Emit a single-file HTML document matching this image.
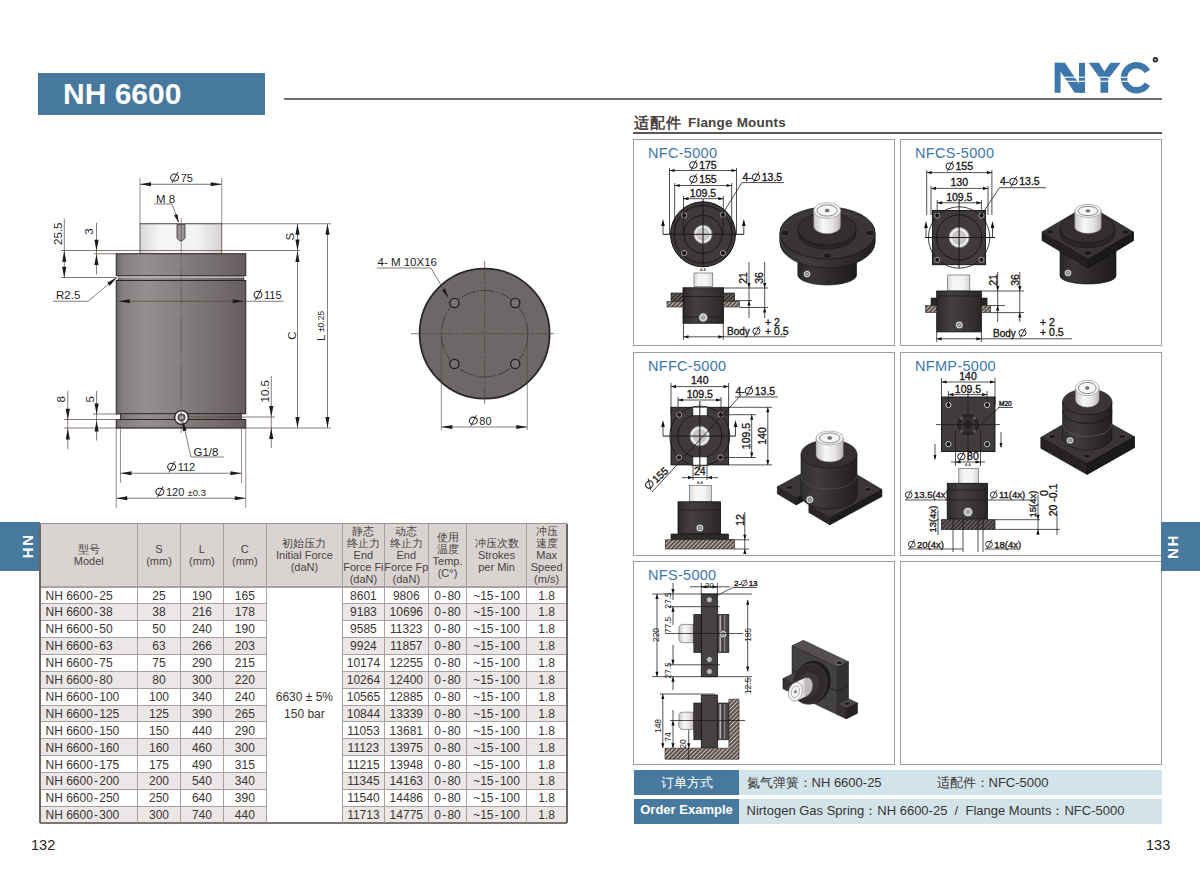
<!DOCTYPE html><html><head><meta charset="utf-8"><style>
*{margin:0;padding:0;box-sizing:border-box}
html,body{width:1200px;height:885px;overflow:hidden;background:#fff}
body{position:relative;font-family:"Liberation Sans",sans-serif;color:#3a3432}
.a{position:absolute}
.t{position:absolute;white-space:nowrap;line-height:1}
.c{position:absolute;display:flex;align-items:center;justify-content:center;text-align:center;white-space:nowrap}
.hd{font-size:11px;line-height:12px;color:#4a4341}
.dc{position:absolute;font-size:12px;line-height:16.9px;padding-top:0.8px;white-space:nowrap;text-align:center;color:#3a3432}
.box{position:absolute;border:1.3px solid #a39d9b;background:#fff}
.bt{position:absolute;font-size:14.5px;color:#3d77ad;white-space:nowrap;line-height:1;letter-spacing:0.3px}
svg{position:absolute;left:0;top:0}
.hy{margin:0 1.2px}
</style></head><body>
<div class="a" style="left:38px;top:73px;width:226.6px;height:41.5px;background:#47799f"></div>
<div class="t" style="left:63px;top:79px;font-size:30px;font-weight:bold;color:#fff;letter-spacing:0px">NH 6600</div>
<div class="a" style="left:284px;top:98.1px;width:878px;height:2.4px;background:#766c6a"></div>
<div class="t" style="left:634px;top:115px;font-size:15px;font-weight:bold;color:#4a4341;letter-spacing:1px">适配件</div>
<div class="t" style="left:688px;top:116px;font-size:13.5px;font-weight:bold;color:#4a4341;letter-spacing:0.2px">Flange Mounts</div>
<div class="a" style="left:633px;top:132px;width:529px;height:1.6px;background:#5e5654"></div>
<div class="a" style="left:0;top:522px;width:39.5px;height:49px;background:#47799f"></div>
<div class="t" style="top:535px;font-size:15px;font-weight:bold;color:#fff;letter-spacing:1.6px;transform-origin:0 0;transform:rotate(90deg);left:35.5px">NH</div>
<div class="t" style="left:31px;top:838px;font-size:14.5px;color:#222">132</div>
<div class="t" style="left:1146px;top:838px;font-size:14.5px;color:#222">133</div>
<div class="a" style="left:40px;top:523.75px;width:527px;height:63.0px;background:#d9d4d1"></div>
<div class="a" style="left:40px;top:603.65px;width:226.3px;height:16.9px;background:#ebe7e6"></div>
<div class="a" style="left:342.5px;top:603.65px;width:224.5px;height:16.9px;background:#ebe7e6"></div>
<div class="a" style="left:40px;top:637.45px;width:226.3px;height:16.9px;background:#ebe7e6"></div>
<div class="a" style="left:342.5px;top:637.45px;width:224.5px;height:16.9px;background:#ebe7e6"></div>
<div class="a" style="left:40px;top:671.25px;width:226.3px;height:16.9px;background:#ebe7e6"></div>
<div class="a" style="left:342.5px;top:671.25px;width:224.5px;height:16.9px;background:#ebe7e6"></div>
<div class="a" style="left:40px;top:705.05px;width:226.3px;height:16.9px;background:#ebe7e6"></div>
<div class="a" style="left:342.5px;top:705.05px;width:224.5px;height:16.9px;background:#ebe7e6"></div>
<div class="a" style="left:40px;top:738.85px;width:226.3px;height:16.9px;background:#ebe7e6"></div>
<div class="a" style="left:342.5px;top:738.85px;width:224.5px;height:16.9px;background:#ebe7e6"></div>
<div class="a" style="left:40px;top:772.65px;width:226.3px;height:16.9px;background:#ebe7e6"></div>
<div class="a" style="left:342.5px;top:772.65px;width:224.5px;height:16.9px;background:#ebe7e6"></div>
<div class="a" style="left:40px;top:806.45px;width:226.3px;height:16.9px;background:#ebe7e6"></div>
<div class="a" style="left:342.5px;top:806.45px;width:224.5px;height:16.9px;background:#ebe7e6"></div>
<div class="a" style="left:40px;top:603.15px;width:226.3px;height:1px;background:#a8a09e"></div>
<div class="a" style="left:342.5px;top:603.15px;width:224.5px;height:1px;background:#a8a09e"></div>
<div class="a" style="left:40px;top:620.05px;width:226.3px;height:1px;background:#a8a09e"></div>
<div class="a" style="left:342.5px;top:620.05px;width:224.5px;height:1px;background:#a8a09e"></div>
<div class="a" style="left:40px;top:636.95px;width:226.3px;height:1px;background:#a8a09e"></div>
<div class="a" style="left:342.5px;top:636.95px;width:224.5px;height:1px;background:#a8a09e"></div>
<div class="a" style="left:40px;top:653.85px;width:226.3px;height:1px;background:#a8a09e"></div>
<div class="a" style="left:342.5px;top:653.85px;width:224.5px;height:1px;background:#a8a09e"></div>
<div class="a" style="left:40px;top:670.75px;width:226.3px;height:1px;background:#a8a09e"></div>
<div class="a" style="left:342.5px;top:670.75px;width:224.5px;height:1px;background:#a8a09e"></div>
<div class="a" style="left:40px;top:687.65px;width:226.3px;height:1px;background:#a8a09e"></div>
<div class="a" style="left:342.5px;top:687.65px;width:224.5px;height:1px;background:#a8a09e"></div>
<div class="a" style="left:40px;top:704.55px;width:226.3px;height:1px;background:#a8a09e"></div>
<div class="a" style="left:342.5px;top:704.55px;width:224.5px;height:1px;background:#a8a09e"></div>
<div class="a" style="left:40px;top:721.45px;width:226.3px;height:1px;background:#a8a09e"></div>
<div class="a" style="left:342.5px;top:721.45px;width:224.5px;height:1px;background:#a8a09e"></div>
<div class="a" style="left:40px;top:738.35px;width:226.3px;height:1px;background:#a8a09e"></div>
<div class="a" style="left:342.5px;top:738.35px;width:224.5px;height:1px;background:#a8a09e"></div>
<div class="a" style="left:40px;top:755.25px;width:226.3px;height:1px;background:#a8a09e"></div>
<div class="a" style="left:342.5px;top:755.25px;width:224.5px;height:1px;background:#a8a09e"></div>
<div class="a" style="left:40px;top:772.15px;width:226.3px;height:1px;background:#a8a09e"></div>
<div class="a" style="left:342.5px;top:772.15px;width:224.5px;height:1px;background:#a8a09e"></div>
<div class="a" style="left:40px;top:789.05px;width:226.3px;height:1px;background:#a8a09e"></div>
<div class="a" style="left:342.5px;top:789.05px;width:224.5px;height:1px;background:#a8a09e"></div>
<div class="a" style="left:40px;top:805.95px;width:226.3px;height:1px;background:#a8a09e"></div>
<div class="a" style="left:342.5px;top:805.95px;width:224.5px;height:1px;background:#a8a09e"></div>
<div class="a" style="left:40px;top:586.45px;width:527px;height:1.5px;background:#aaa3a1"></div>
<div class="a" style="left:40px;top:522.75px;width:527px;height:1.6px;background:#9a9290"></div>
<div class="a" style="left:40px;top:822.3499999999999px;width:527px;height:2px;background:#7d7573"></div>
<div class="a" style="left:39.35px;top:523.75px;width:1.3px;height:299.5999999999999px;background:#6e6664"></div>
<div class="a" style="left:137.0px;top:523.75px;width:1px;height:299.5999999999999px;background:#a8a09e"></div>
<div class="a" style="left:180.0px;top:523.75px;width:1px;height:299.5999999999999px;background:#a8a09e"></div>
<div class="a" style="left:222.8px;top:523.75px;width:1px;height:299.5999999999999px;background:#a8a09e"></div>
<div class="a" style="left:265.8px;top:523.75px;width:1px;height:299.5999999999999px;background:#a8a09e"></div>
<div class="a" style="left:342.0px;top:523.75px;width:1px;height:299.5999999999999px;background:#a8a09e"></div>
<div class="a" style="left:383.8px;top:523.75px;width:1px;height:299.5999999999999px;background:#a8a09e"></div>
<div class="a" style="left:427.8px;top:523.75px;width:1px;height:299.5999999999999px;background:#a8a09e"></div>
<div class="a" style="left:466.3px;top:523.75px;width:1px;height:299.5999999999999px;background:#a8a09e"></div>
<div class="a" style="left:525.8px;top:523.75px;width:1px;height:299.5999999999999px;background:#a8a09e"></div>
<div class="a" style="left:566.35px;top:523.75px;width:1.3px;height:299.5999999999999px;background:#6e6664"></div>
<div class="c hd" style="left:40px;top:523.75px;width:97.5px;height:63.0px;flex-direction:column">型号<br>Model</div>
<div class="c hd" style="left:137.5px;top:523.75px;width:43.0px;height:63.0px;flex-direction:column">S<br>(mm)</div>
<div class="c hd" style="left:180.5px;top:523.75px;width:42.80000000000001px;height:63.0px;flex-direction:column">L<br>(mm)</div>
<div class="c hd" style="left:223.3px;top:523.75px;width:43.0px;height:63.0px;flex-direction:column">C<br>(mm)</div>
<div class="c hd" style="left:266.3px;top:523.75px;width:76.19999999999999px;height:63.0px;flex-direction:column">初始压力<br>Initial Force<br>(daN)</div>
<div class="c hd" style="left:342.5px;top:523.75px;width:41.80000000000001px;height:63.0px;flex-direction:column">静态<br>终止力<br>End<br>Force Fi<br>(daN)</div>
<div class="c hd" style="left:384.3px;top:523.75px;width:44.0px;height:63.0px;flex-direction:column">动态<br>终止力<br>End<br>Force Fp<br>(daN)</div>
<div class="c hd" style="left:428.3px;top:523.75px;width:38.5px;height:63.0px;flex-direction:column">使用<br>温度<br>Temp.<br>(C°)</div>
<div class="c hd" style="left:466.8px;top:523.75px;width:59.49999999999994px;height:63.0px;flex-direction:column">冲压次数<br>Strokes<br>per Min</div>
<div class="c hd" style="left:526.3px;top:523.75px;width:40.700000000000045px;height:63.0px;flex-direction:column">冲压<br>速度<br>Max<br>Speed<br>(m/s)</div>
<div class="dc" style="left:45.5px;top:586.75px;text-align:left">NH 6600<span class=hy>-</span>25</div>
<div class="dc" style="left:137.5px;top:586.75px;width:43.0px">25</div>
<div class="dc" style="left:180.5px;top:586.75px;width:42.80000000000001px">190</div>
<div class="dc" style="left:223.3px;top:586.75px;width:43.0px">165</div>
<div class="dc" style="left:342.5px;top:586.75px;width:41.80000000000001px">8601</div>
<div class="dc" style="left:384.3px;top:586.75px;width:44.0px">9806</div>
<div class="dc" style="left:428.3px;top:586.75px;width:38.5px">0<span class=hy>-</span>80</div>
<div class="dc" style="left:466.8px;top:586.75px;width:59.49999999999994px">~15<span class=hy>-</span>100</div>
<div class="dc" style="left:526.3px;top:586.75px;width:40.700000000000045px">1.8</div>
<div class="dc" style="left:45.5px;top:603.65px;text-align:left">NH 6600<span class=hy>-</span>38</div>
<div class="dc" style="left:137.5px;top:603.65px;width:43.0px">38</div>
<div class="dc" style="left:180.5px;top:603.65px;width:42.80000000000001px">216</div>
<div class="dc" style="left:223.3px;top:603.65px;width:43.0px">178</div>
<div class="dc" style="left:342.5px;top:603.65px;width:41.80000000000001px">9183</div>
<div class="dc" style="left:384.3px;top:603.65px;width:44.0px">10696</div>
<div class="dc" style="left:428.3px;top:603.65px;width:38.5px">0<span class=hy>-</span>80</div>
<div class="dc" style="left:466.8px;top:603.65px;width:59.49999999999994px">~15<span class=hy>-</span>100</div>
<div class="dc" style="left:526.3px;top:603.65px;width:40.700000000000045px">1.8</div>
<div class="dc" style="left:45.5px;top:620.55px;text-align:left">NH 6600<span class=hy>-</span>50</div>
<div class="dc" style="left:137.5px;top:620.55px;width:43.0px">50</div>
<div class="dc" style="left:180.5px;top:620.55px;width:42.80000000000001px">240</div>
<div class="dc" style="left:223.3px;top:620.55px;width:43.0px">190</div>
<div class="dc" style="left:342.5px;top:620.55px;width:41.80000000000001px">9585</div>
<div class="dc" style="left:384.3px;top:620.55px;width:44.0px">11323</div>
<div class="dc" style="left:428.3px;top:620.55px;width:38.5px">0<span class=hy>-</span>80</div>
<div class="dc" style="left:466.8px;top:620.55px;width:59.49999999999994px">~15<span class=hy>-</span>100</div>
<div class="dc" style="left:526.3px;top:620.55px;width:40.700000000000045px">1.8</div>
<div class="dc" style="left:45.5px;top:637.45px;text-align:left">NH 6600<span class=hy>-</span>63</div>
<div class="dc" style="left:137.5px;top:637.45px;width:43.0px">63</div>
<div class="dc" style="left:180.5px;top:637.45px;width:42.80000000000001px">266</div>
<div class="dc" style="left:223.3px;top:637.45px;width:43.0px">203</div>
<div class="dc" style="left:342.5px;top:637.45px;width:41.80000000000001px">9924</div>
<div class="dc" style="left:384.3px;top:637.45px;width:44.0px">11857</div>
<div class="dc" style="left:428.3px;top:637.45px;width:38.5px">0<span class=hy>-</span>80</div>
<div class="dc" style="left:466.8px;top:637.45px;width:59.49999999999994px">~15<span class=hy>-</span>100</div>
<div class="dc" style="left:526.3px;top:637.45px;width:40.700000000000045px">1.8</div>
<div class="dc" style="left:45.5px;top:654.35px;text-align:left">NH 6600<span class=hy>-</span>75</div>
<div class="dc" style="left:137.5px;top:654.35px;width:43.0px">75</div>
<div class="dc" style="left:180.5px;top:654.35px;width:42.80000000000001px">290</div>
<div class="dc" style="left:223.3px;top:654.35px;width:43.0px">215</div>
<div class="dc" style="left:342.5px;top:654.35px;width:41.80000000000001px">10174</div>
<div class="dc" style="left:384.3px;top:654.35px;width:44.0px">12255</div>
<div class="dc" style="left:428.3px;top:654.35px;width:38.5px">0<span class=hy>-</span>80</div>
<div class="dc" style="left:466.8px;top:654.35px;width:59.49999999999994px">~15<span class=hy>-</span>100</div>
<div class="dc" style="left:526.3px;top:654.35px;width:40.700000000000045px">1.8</div>
<div class="dc" style="left:45.5px;top:671.25px;text-align:left">NH 6600<span class=hy>-</span>80</div>
<div class="dc" style="left:137.5px;top:671.25px;width:43.0px">80</div>
<div class="dc" style="left:180.5px;top:671.25px;width:42.80000000000001px">300</div>
<div class="dc" style="left:223.3px;top:671.25px;width:43.0px">220</div>
<div class="dc" style="left:342.5px;top:671.25px;width:41.80000000000001px">10264</div>
<div class="dc" style="left:384.3px;top:671.25px;width:44.0px">12400</div>
<div class="dc" style="left:428.3px;top:671.25px;width:38.5px">0<span class=hy>-</span>80</div>
<div class="dc" style="left:466.8px;top:671.25px;width:59.49999999999994px">~15<span class=hy>-</span>100</div>
<div class="dc" style="left:526.3px;top:671.25px;width:40.700000000000045px">1.8</div>
<div class="dc" style="left:45.5px;top:688.15px;text-align:left">NH 6600<span class=hy>-</span>100</div>
<div class="dc" style="left:137.5px;top:688.15px;width:43.0px">100</div>
<div class="dc" style="left:180.5px;top:688.15px;width:42.80000000000001px">340</div>
<div class="dc" style="left:223.3px;top:688.15px;width:43.0px">240</div>
<div class="dc" style="left:342.5px;top:688.15px;width:41.80000000000001px">10565</div>
<div class="dc" style="left:384.3px;top:688.15px;width:44.0px">12885</div>
<div class="dc" style="left:428.3px;top:688.15px;width:38.5px">0<span class=hy>-</span>80</div>
<div class="dc" style="left:466.8px;top:688.15px;width:59.49999999999994px">~15<span class=hy>-</span>100</div>
<div class="dc" style="left:526.3px;top:688.15px;width:40.700000000000045px">1.8</div>
<div class="dc" style="left:45.5px;top:705.05px;text-align:left">NH 6600<span class=hy>-</span>125</div>
<div class="dc" style="left:137.5px;top:705.05px;width:43.0px">125</div>
<div class="dc" style="left:180.5px;top:705.05px;width:42.80000000000001px">390</div>
<div class="dc" style="left:223.3px;top:705.05px;width:43.0px">265</div>
<div class="dc" style="left:342.5px;top:705.05px;width:41.80000000000001px">10844</div>
<div class="dc" style="left:384.3px;top:705.05px;width:44.0px">13339</div>
<div class="dc" style="left:428.3px;top:705.05px;width:38.5px">0<span class=hy>-</span>80</div>
<div class="dc" style="left:466.8px;top:705.05px;width:59.49999999999994px">~15<span class=hy>-</span>100</div>
<div class="dc" style="left:526.3px;top:705.05px;width:40.700000000000045px">1.8</div>
<div class="dc" style="left:45.5px;top:721.95px;text-align:left">NH 6600<span class=hy>-</span>150</div>
<div class="dc" style="left:137.5px;top:721.95px;width:43.0px">150</div>
<div class="dc" style="left:180.5px;top:721.95px;width:42.80000000000001px">440</div>
<div class="dc" style="left:223.3px;top:721.95px;width:43.0px">290</div>
<div class="dc" style="left:342.5px;top:721.95px;width:41.80000000000001px">11053</div>
<div class="dc" style="left:384.3px;top:721.95px;width:44.0px">13681</div>
<div class="dc" style="left:428.3px;top:721.95px;width:38.5px">0<span class=hy>-</span>80</div>
<div class="dc" style="left:466.8px;top:721.95px;width:59.49999999999994px">~15<span class=hy>-</span>100</div>
<div class="dc" style="left:526.3px;top:721.95px;width:40.700000000000045px">1.8</div>
<div class="dc" style="left:45.5px;top:738.85px;text-align:left">NH 6600<span class=hy>-</span>160</div>
<div class="dc" style="left:137.5px;top:738.85px;width:43.0px">160</div>
<div class="dc" style="left:180.5px;top:738.85px;width:42.80000000000001px">460</div>
<div class="dc" style="left:223.3px;top:738.85px;width:43.0px">300</div>
<div class="dc" style="left:342.5px;top:738.85px;width:41.80000000000001px">11123</div>
<div class="dc" style="left:384.3px;top:738.85px;width:44.0px">13975</div>
<div class="dc" style="left:428.3px;top:738.85px;width:38.5px">0<span class=hy>-</span>80</div>
<div class="dc" style="left:466.8px;top:738.85px;width:59.49999999999994px">~15<span class=hy>-</span>100</div>
<div class="dc" style="left:526.3px;top:738.85px;width:40.700000000000045px">1.8</div>
<div class="dc" style="left:45.5px;top:755.75px;text-align:left">NH 6600<span class=hy>-</span>175</div>
<div class="dc" style="left:137.5px;top:755.75px;width:43.0px">175</div>
<div class="dc" style="left:180.5px;top:755.75px;width:42.80000000000001px">490</div>
<div class="dc" style="left:223.3px;top:755.75px;width:43.0px">315</div>
<div class="dc" style="left:342.5px;top:755.75px;width:41.80000000000001px">11215</div>
<div class="dc" style="left:384.3px;top:755.75px;width:44.0px">13948</div>
<div class="dc" style="left:428.3px;top:755.75px;width:38.5px">0<span class=hy>-</span>80</div>
<div class="dc" style="left:466.8px;top:755.75px;width:59.49999999999994px">~15<span class=hy>-</span>100</div>
<div class="dc" style="left:526.3px;top:755.75px;width:40.700000000000045px">1.8</div>
<div class="dc" style="left:45.5px;top:772.65px;text-align:left">NH 6600<span class=hy>-</span>200</div>
<div class="dc" style="left:137.5px;top:772.65px;width:43.0px">200</div>
<div class="dc" style="left:180.5px;top:772.65px;width:42.80000000000001px">540</div>
<div class="dc" style="left:223.3px;top:772.65px;width:43.0px">340</div>
<div class="dc" style="left:342.5px;top:772.65px;width:41.80000000000001px">11345</div>
<div class="dc" style="left:384.3px;top:772.65px;width:44.0px">14163</div>
<div class="dc" style="left:428.3px;top:772.65px;width:38.5px">0<span class=hy>-</span>80</div>
<div class="dc" style="left:466.8px;top:772.65px;width:59.49999999999994px">~15<span class=hy>-</span>100</div>
<div class="dc" style="left:526.3px;top:772.65px;width:40.700000000000045px">1.8</div>
<div class="dc" style="left:45.5px;top:789.55px;text-align:left">NH 6600<span class=hy>-</span>250</div>
<div class="dc" style="left:137.5px;top:789.55px;width:43.0px">250</div>
<div class="dc" style="left:180.5px;top:789.55px;width:42.80000000000001px">640</div>
<div class="dc" style="left:223.3px;top:789.55px;width:43.0px">390</div>
<div class="dc" style="left:342.5px;top:789.55px;width:41.80000000000001px">11540</div>
<div class="dc" style="left:384.3px;top:789.55px;width:44.0px">14486</div>
<div class="dc" style="left:428.3px;top:789.55px;width:38.5px">0<span class=hy>-</span>80</div>
<div class="dc" style="left:466.8px;top:789.55px;width:59.49999999999994px">~15<span class=hy>-</span>100</div>
<div class="dc" style="left:526.3px;top:789.55px;width:40.700000000000045px">1.8</div>
<div class="dc" style="left:45.5px;top:806.45px;text-align:left">NH 6600<span class=hy>-</span>300</div>
<div class="dc" style="left:137.5px;top:806.45px;width:43.0px">300</div>
<div class="dc" style="left:180.5px;top:806.45px;width:42.80000000000001px">740</div>
<div class="dc" style="left:223.3px;top:806.45px;width:43.0px">440</div>
<div class="dc" style="left:342.5px;top:806.45px;width:41.80000000000001px">11713</div>
<div class="dc" style="left:384.3px;top:806.45px;width:44.0px">14775</div>
<div class="dc" style="left:428.3px;top:806.45px;width:38.5px">0<span class=hy>-</span>80</div>
<div class="dc" style="left:466.8px;top:806.45px;width:59.49999999999994px">~15<span class=hy>-</span>100</div>
<div class="dc" style="left:526.3px;top:806.45px;width:40.700000000000045px">1.8</div>
<div class="dc" style="left:266.3px;top:688.15px;width:76.19999999999999px">6630 ± 5%</div>
<div class="dc" style="left:266.3px;top:705.05px;width:76.19999999999999px">150 bar</div>
<div class="box" style="left:632.9px;top:138.9px;width:262.2px;height:207.3px"></div>
<div class="bt" style="left:648.0px;top:145.5px">NFC-5000</div>
<div class="box" style="left:899.9px;top:138.9px;width:262.2px;height:207.3px"></div>
<div class="bt" style="left:915.0px;top:145.5px">NFCS-5000</div>
<div class="box" style="left:632.9px;top:351.9px;width:262.2px;height:204.3px"></div>
<div class="bt" style="left:648.0px;top:358.5px">NFFC-5000</div>
<div class="box" style="left:899.9px;top:351.9px;width:262.2px;height:204.3px"></div>
<div class="bt" style="left:915.0px;top:358.5px">NFMP-5000</div>
<div class="box" style="left:632.9px;top:561.4px;width:262.2px;height:203.59999999999997px"></div>
<div class="bt" style="left:648.0px;top:568px">NFS-5000</div>
<div class="box" style="left:899.9px;top:561.4px;width:262.2px;height:203.59999999999997px"></div>
<div class="a" style="left:634px;top:770px;width:105px;height:25px;background:#47799f"></div>
<div class="a" style="left:739px;top:770px;width:422.6px;height:25px;background:#d2e4ea"></div>
<div class="a" style="left:634px;top:798.5px;width:105px;height:25px;background:#47799f"></div>
<div class="a" style="left:739px;top:798.5px;width:422.6px;height:25px;background:#d2e4ea"></div>
<div class="c" style="left:634px;top:770px;width:105px;height:25px;font-size:13px;color:#fff">订单方式</div>
<div class="c" style="left:634px;top:797px;width:105px;height:25px;font-size:13px;font-weight:bold;color:#fff">Order Example</div>
<div class="t" style="left:746.5px;top:776px;font-size:13px;color:#3a3432">氮气弹簧：NH 6600-25</div>
<div class="t" style="left:936.5px;top:776px;font-size:13px;color:#3a3432">适配件：NFC-5000</div>
<div class="t" style="left:746.5px;top:804px;font-size:13px;color:#3a3432">Nirtogen Gas Spring：NH 6600-25&nbsp;&nbsp;/&nbsp;&nbsp;Flange Mounts：NFC-5000</div>
<div class="a" style="left:1161px;top:522px;width:39px;height:49px;background:#47799f"></div>
<div class="t" style="top:559px;font-size:15px;font-weight:bold;color:#fff;letter-spacing:1.6px;transform-origin:0 0;transform:rotate(-90deg);left:1165px">NH</div>
<svg width="1200" height="885" viewBox="0 0 1200 885" style="position:absolute;left:0;top:0" font-family="Liberation Sans, sans-serif">
<defs>
<linearGradient id="gBody" x1="0" x2="1" y1="0" y2="0">
<stop offset="0" stop-color="#6c6868"/><stop offset="0.05" stop-color="#858080"/><stop offset="0.22" stop-color="#959090"/>
<stop offset="0.5" stop-color="#858080"/><stop offset="0.85" stop-color="#706769"/><stop offset="1" stop-color="#645b5e"/></linearGradient>
<linearGradient id="gRod" x1="0" x2="1" y1="0" y2="0">
<stop offset="0" stop-color="#d9d7d7"/><stop offset="0.25" stop-color="#f6f6f6"/><stop offset="0.7" stop-color="#f3f3f3"/><stop offset="1" stop-color="#d6d3d3"/></linearGradient>
<linearGradient id="gRod2" x1="0" x2="1" y1="0" y2="0">
<stop offset="0" stop-color="#c9c6c6"/><stop offset="0.35" stop-color="#f7f7f7"/><stop offset="0.7" stop-color="#e6e3e6"/><stop offset="1" stop-color="#b9b2b8"/></linearGradient>
<pattern id="hatch" width="3" height="3" patternUnits="userSpaceOnUse" patternTransform="rotate(45)">
<rect width="3" height="3" fill="#5f5350"/><rect width="1" height="3" fill="#c9bdb8"/></pattern>
<pattern id="hatchD" width="3" height="3" patternUnits="userSpaceOnUse" patternTransform="rotate(45)">
<rect width="3" height="3" fill="#3a3434"/><rect width="0.8" height="3" fill="#8a8080"/></pattern>
</defs>
<rect x="140" y="223.75" width="81.75" height="29.5" fill="url(#gRod)" stroke="#8a8686" stroke-width="0.6"/>
<line x1="140" y1="223.75" x2="221.75" y2="223.75" stroke="#54433e" stroke-width="0.9" />
<path d="M177 224.5 L177 238 Q181 244 185 238 L185 224.5 Z" fill="#9a9595" stroke="#3a3333" stroke-width="0.8"/>
<rect x="116.25" y="253.75" width="129.5" height="21.75" fill="url(#gBody)" stroke="#2a2626" stroke-width="1"/>
<rect x="118" y="275.5" width="126" height="5" fill="url(#gBody)" stroke="#3a3535" stroke-width="0.6"/>
<rect x="118" y="276.6" width="126" height="1.2" fill="#c9c5c4"/>
<rect x="116.25" y="280.5" width="129.5" height="133.25" fill="url(#gBody)" stroke="#2a2626" stroke-width="1"/>
<rect x="120.5" y="413.75" width="121" height="5.75" fill="url(#gBody)" stroke="#2a2626" stroke-width="0.8"/>
<rect x="116.25" y="419.5" width="129.5" height="8.5" fill="url(#gBody)" stroke="#2a2626" stroke-width="1"/>
<circle cx="181.5" cy="417.5" r="7.6" fill="#2a2626"/><circle cx="181.5" cy="417.5" r="6.2" fill="#f2f0f0"/><circle cx="181.5" cy="417.5" r="3.6" fill="#7a7575" stroke="#222" stroke-width="0.8"/><circle cx="181.5" cy="417.5" r="1.5" fill="#ddd"/>
<line x1="181.25" y1="218" x2="181.25" y2="433" stroke="#5a504d" stroke-width="0.6" stroke-dasharray="40 3 2 3"/>
<line x1="140" y1="178" x2="140" y2="253" stroke="#54433e" stroke-width="0.6" />
<line x1="221.75" y1="178" x2="221.75" y2="253" stroke="#54433e" stroke-width="0.6" />
<line x1="140" y1="184.25" x2="221.75" y2="184.25" stroke="#54433e" stroke-width="0.8" />
<polygon points="140.00,184.25 151.00,182.15 151.00,186.35" fill="#1e1a1a"/>
<polygon points="221.75,184.25 210.75,182.15 210.75,186.35" fill="#1e1a1a"/>
<ellipse cx="174.59" cy="177.54" rx="3.96" ry="3.52" fill="none" stroke="#231f1f" stroke-width="1.04"/>
<line x1="171.95" y1="183.04" x2="177.89" y2="172.04" stroke="#231f1f" stroke-width="0.94"/>
<text x="180.64" y="181.5" font-size="11" fill="#231f1f" >75</text>
<text x="156" y="202.5" font-size="11.5" text-anchor="start" fill="#231f1f" >M 8</text>
<line x1="154" y1="204" x2="172" y2="204" stroke="#54433e" stroke-width="0.7" />
<line x1="172" y1="204" x2="178.5" y2="222" stroke="#54433e" stroke-width="0.7" />
<polygon points="178.80,223.00 174.07,215.13 177.46,213.92" fill="#1e1a1a"/>
<line x1="61" y1="250.5" x2="300" y2="250.5" stroke="#54433e" stroke-width="0.7" />
<line x1="93.75" y1="253.75" x2="116" y2="253.75" stroke="#54433e" stroke-width="0.7" />
<line x1="61" y1="277.5" x2="116" y2="277.5" stroke="#54433e" stroke-width="0.7" />
<line x1="221.75" y1="223.75" x2="331" y2="223.75" stroke="#54433e" stroke-width="0.7" />
<line x1="64.3" y1="218.6" x2="64.3" y2="277.8" stroke="#54433e" stroke-width="0.7" />
<polygon points="64.25,250.70 62.15,261.70 66.35,261.70" fill="#1e1a1a"/>
<polygon points="64.25,277.80 62.15,266.80 66.35,266.80" fill="#1e1a1a"/>
<text x="61.5" y="233.75" font-size="11.5" text-anchor="middle" fill="#231f1f" transform="rotate(-90 61.5 233.75)" >25.5</text>
<line x1="96.5" y1="222.7" x2="96.5" y2="274.6" stroke="#54433e" stroke-width="0.7" />
<polygon points="96.50,250.70 94.40,239.70 98.60,239.70" fill="#1e1a1a"/>
<polygon points="96.50,253.90 94.40,264.90 98.60,264.90" fill="#1e1a1a"/>
<text x="93" y="231.5" font-size="11.5" text-anchor="middle" fill="#231f1f" transform="rotate(-90 93 231.5)" >3</text>
<line x1="297.5" y1="223.75" x2="297.5" y2="428" stroke="#54433e" stroke-width="0.7" />
<polygon points="297.50,223.75 295.40,234.75 299.60,234.75" fill="#1e1a1a"/>
<polygon points="297.50,250.50 295.40,239.50 299.60,239.50" fill="#1e1a1a"/>
<polygon points="297.50,251.00 295.40,262.00 299.60,262.00" fill="#1e1a1a"/>
<polygon points="297.50,428.00 295.40,417.00 299.60,417.00" fill="#1e1a1a"/>
<text x="293.5" y="236.75" font-size="11.5" text-anchor="middle" fill="#231f1f" transform="rotate(-90 293.5 236.75)" >S</text>
<text x="295.5" y="335.5" font-size="11.5" text-anchor="middle" fill="#231f1f" transform="rotate(-90 295.5 335.5)" >C</text>
<line x1="327.5" y1="223.75" x2="327.5" y2="428" stroke="#54433e" stroke-width="0.7" />
<polygon points="327.50,223.75 325.40,234.75 329.60,234.75" fill="#1e1a1a"/>
<polygon points="327.50,428.00 325.40,417.00 329.60,417.00" fill="#1e1a1a"/>
<text transform="translate(325 341) rotate(-90)" font-size="11.5" fill="#231f1f">L<tspan font-size="8.5" dx="2.5" dy="-1.5">±0.25</tspan></text>
<text x="56" y="298.75" font-size="11.5" text-anchor="start" fill="#231f1f" >R2.5</text>
<line x1="53" y1="301.25" x2="88" y2="301.25" stroke="#54433e" stroke-width="0.7" />
<line x1="88" y1="301.25" x2="116.5" y2="277.5" stroke="#54433e" stroke-width="0.7" />
<polygon points="117.00,277.20 109.81,285.76 107.26,282.68" fill="#1e1a1a"/>
<line x1="118.75" y1="301.25" x2="283.75" y2="301.25" stroke="#54433e" stroke-width="0.7" />
<polygon points="118.75,301.25 129.75,299.15 129.75,303.35" fill="#1e1a1a"/>
<polygon points="243.75,301.25 232.75,299.15 232.75,303.35" fill="#1e1a1a"/>
<ellipse cx="257.99" cy="294.79" rx="3.96" ry="3.52" fill="none" stroke="#231f1f" stroke-width="1.04"/>
<line x1="255.35" y1="300.29" x2="261.29" y2="289.29" stroke="#231f1f" stroke-width="0.94"/>
<text x="264.04" y="298.75" font-size="11" fill="#231f1f" >115</text>
<line x1="93" y1="414" x2="120" y2="414" stroke="#54433e" stroke-width="0.7" />
<line x1="64" y1="419.5" x2="120" y2="419.5" stroke="#54433e" stroke-width="0.7" />
<line x1="64" y1="428" x2="331" y2="428" stroke="#54433e" stroke-width="0.7" />
<line x1="189.5" y1="417" x2="275" y2="417" stroke="#54433e" stroke-width="0.7" />
<line x1="67.8" y1="390.9" x2="67.8" y2="449.2" stroke="#54433e" stroke-width="0.7" />
<polygon points="67.80,419.80 65.70,408.80 69.90,408.80" fill="#1e1a1a"/>
<polygon points="67.80,428.40 65.70,439.40 69.90,439.40" fill="#1e1a1a"/>
<text x="65" y="399.25" font-size="11.5" text-anchor="middle" fill="#231f1f" transform="rotate(-90 65 399.25)" >8</text>
<line x1="96.6" y1="390.9" x2="96.6" y2="440.6" stroke="#54433e" stroke-width="0.7" />
<polygon points="96.60,414.40 94.50,403.40 98.70,403.40" fill="#1e1a1a"/>
<polygon points="96.60,420.50 94.50,431.50 98.70,431.50" fill="#1e1a1a"/>
<text x="93.75" y="399.25" font-size="11.5" text-anchor="middle" fill="#231f1f" transform="rotate(-90 93.75 399.25)" >5</text>
<line x1="271.25" y1="376" x2="271.25" y2="448" stroke="#54433e" stroke-width="0.7" />
<polygon points="271.25,417.00 269.15,406.00 273.35,406.00" fill="#1e1a1a"/>
<polygon points="271.25,428.00 269.15,439.00 273.35,439.00" fill="#1e1a1a"/>
<text x="268.75" y="391.25" font-size="11.5" text-anchor="middle" fill="#231f1f" transform="rotate(-90 268.75 391.25)" >10.5</text>
<line x1="183" y1="422" x2="191" y2="457" stroke="#54433e" stroke-width="0.7" />
<line x1="191" y1="457" x2="223.75" y2="457" stroke="#54433e" stroke-width="0.7" />
<polygon points="182.50,421.00 186.65,430.30 182.95,431.17" fill="#1e1a1a"/>
<text x="193.5" y="455.5" font-size="11.5" text-anchor="start" fill="#231f1f" >G1/8</text>
<line x1="120.5" y1="428" x2="120.5" y2="483" stroke="#54433e" stroke-width="0.6" />
<line x1="241.5" y1="428" x2="241.5" y2="483" stroke="#54433e" stroke-width="0.6" />
<line x1="120.5" y1="473.25" x2="241.5" y2="473.25" stroke="#54433e" stroke-width="0.7" />
<polygon points="120.50,473.25 131.50,471.15 131.50,475.35" fill="#1e1a1a"/>
<polygon points="241.50,473.25 230.50,471.15 230.50,475.35" fill="#1e1a1a"/>
<ellipse cx="171.59" cy="466.79" rx="3.96" ry="3.52" fill="none" stroke="#231f1f" stroke-width="1.04"/>
<line x1="168.95" y1="472.29" x2="174.89" y2="461.29" stroke="#231f1f" stroke-width="0.94"/>
<text x="177.64" y="470.75" font-size="11" fill="#231f1f" >112</text>
<line x1="116.25" y1="428" x2="116.25" y2="508" stroke="#54433e" stroke-width="0.6" />
<line x1="245.75" y1="428" x2="245.75" y2="508" stroke="#54433e" stroke-width="0.6" />
<line x1="116.25" y1="498.25" x2="245.75" y2="498.25" stroke="#54433e" stroke-width="0.7" />
<polygon points="116.25,498.25 127.25,496.15 127.25,500.35" fill="#1e1a1a"/>
<polygon points="245.75,498.25 234.75,496.15 234.75,500.35" fill="#1e1a1a"/>
<ellipse cx="159.89" cy="491.84" rx="3.96" ry="3.52" fill="none" stroke="#231f1f" stroke-width="1.04"/>
<line x1="157.25" y1="497.34" x2="163.19" y2="486.34" stroke="#231f1f" stroke-width="0.94"/>
<text x="165.94" y="495.8" font-size="11" fill="#231f1f" >120</text>
<text x="187.6" y="495.8" font-size="9.5" text-anchor="start" fill="#231f1f" >±0.3</text>
<circle cx="484.6" cy="333.7" r="65" fill="#6d6767" stroke="#2a2626" stroke-width="1.8"/>
<circle cx="484.6" cy="333.7" r="43.3" fill="none" stroke="#2f2b2b" stroke-width="0.7" stroke-dasharray="14 2 2 2"/>
<circle cx="454.4" cy="303" r="4.6" fill="#787272" stroke="#1f1b1b" stroke-width="1.3"/>
<circle cx="515.2" cy="303" r="4.6" fill="#787272" stroke="#1f1b1b" stroke-width="1.3"/>
<circle cx="454.4" cy="363.9" r="4.6" fill="#787272" stroke="#1f1b1b" stroke-width="1.3"/>
<circle cx="515.2" cy="363.9" r="4.6" fill="#787272" stroke="#1f1b1b" stroke-width="1.3"/>
<line x1="411" y1="333.7" x2="556.5" y2="333.7" stroke="#54433e" stroke-width="0.7" stroke-dasharray="18 2 3 2"/>
<line x1="484.6" y1="261" x2="484.6" y2="406" stroke="#54433e" stroke-width="0.7" stroke-dasharray="18 2 3 2"/>
<text x="377.5" y="265.6" font-size="11.5" text-anchor="start" fill="#231f1f" >4- M 10X16</text>
<line x1="377" y1="268" x2="431" y2="268" stroke="#54433e" stroke-width="0.7" />
<line x1="431" y1="268" x2="447.5" y2="296" stroke="#54433e" stroke-width="0.7" />
<polygon points="448.50,298.00 441.82,290.32 445.10,288.40" fill="#1e1a1a"/>
<line x1="441.3" y1="340" x2="441.3" y2="430" stroke="#54433e" stroke-width="0.6" />
<line x1="527.3" y1="340" x2="527.3" y2="430" stroke="#54433e" stroke-width="0.6" />
<line x1="441.3" y1="427" x2="527.3" y2="427" stroke="#54433e" stroke-width="0.7" />
<polygon points="441.30,427.00 452.30,424.90 452.30,429.10" fill="#1e1a1a"/>
<polygon points="527.30,427.00 516.30,424.90 516.30,429.10" fill="#1e1a1a"/>
<ellipse cx="473.29" cy="420.64" rx="3.96" ry="3.52" fill="none" stroke="#231f1f" stroke-width="1.04"/>
<line x1="470.65" y1="426.14" x2="476.59" y2="415.14" stroke="#231f1f" stroke-width="0.94"/>
<text x="479.34" y="424.6" font-size="11" fill="#231f1f" >80</text>
<defs>
<linearGradient id="gDk" x1="0" x2="1" y1="0" y2="0">
<stop offset="0" stop-color="#2a2626"/><stop offset="0.25" stop-color="#3b3737"/><stop offset="0.6" stop-color="#2c2828"/><stop offset="1" stop-color="#1f1c1c"/></linearGradient>
<linearGradient id="gDk2" x1="0" x2="1" y1="0" y2="0">
<stop offset="0" stop-color="#333030"/><stop offset="0.3" stop-color="#403c3c"/><stop offset="0.7" stop-color="#2e2a2a"/><stop offset="1" stop-color="#242020"/></linearGradient>
<linearGradient id="gSide" x1="0" x2="1" y1="0" y2="0">
<stop offset="0" stop-color="#2e2a2a"/><stop offset="0.3" stop-color="#444040"/><stop offset="0.7" stop-color="#383434"/><stop offset="1" stop-color="#2a2626"/></linearGradient>
<radialGradient id="gHole" cx="0.5" cy="0.5" r="0.5"><stop offset="0" stop-color="#ffffff"/><stop offset="0.6" stop-color="#e8e6e6"/><stop offset="1" stop-color="#9a9696"/></radialGradient>
</defs>
<circle cx="703" cy="234.3" r="32.5" fill="#3e3a3a" stroke="#141111" stroke-width="1" />
<circle cx="703" cy="234.3" r="28.9" fill="none" stroke="#161313" stroke-width="0.9" />
<circle cx="703" cy="234.3" r="19" fill="none" stroke="#161313" stroke-width="0.9" />
<circle cx="703" cy="234.3" r="9.2" fill="#e9e7e7" stroke="#777" stroke-width="0.8" />
<circle cx="703" cy="234.3" r="6" fill="#c9c5c5" stroke="#aaa" stroke-width="0.6" />
<circle cx="684.2" cy="215.4" r="2.6" fill="#1a1717" stroke="#bbb" stroke-width="0.8" />
<circle cx="722.9" cy="214.8" r="2.6" fill="#1a1717" stroke="#bbb" stroke-width="0.8" />
<circle cx="684.2" cy="253.1" r="2.6" fill="#1a1717" stroke="#bbb" stroke-width="0.8" />
<circle cx="722.9" cy="253.1" r="2.6" fill="#1a1717" stroke="#bbb" stroke-width="0.8" />
<line x1="663" y1="234.3" x2="743.8" y2="234.3" stroke="#1c1818" stroke-width="1" />
<line x1="703" y1="199" x2="703" y2="266.7" stroke="#1c1818" stroke-width="1" />
<line x1="663" y1="234.3" x2="663" y2="222" stroke="#1c1818" stroke-width="0.8" />
<polygon points="663.00,219.00 661.20,226.00 664.80,226.00" fill="#111"/>
<line x1="743.8" y1="234.3" x2="743.8" y2="222" stroke="#1c1818" stroke-width="0.8" />
<polygon points="743.80,219.00 742.00,226.00 745.60,226.00" fill="#111"/>
<line x1="669.5" y1="168" x2="669.5" y2="234" stroke="#1c1818" stroke-width="0.75" />
<line x1="736.5" y1="168" x2="736.5" y2="234" stroke="#1c1818" stroke-width="0.75" />
<line x1="674.7" y1="183" x2="674.7" y2="234" stroke="#1c1818" stroke-width="0.75" />
<line x1="731.7" y1="183" x2="731.7" y2="234" stroke="#1c1818" stroke-width="0.75" />
<line x1="683.5" y1="196" x2="683.5" y2="234" stroke="#1c1818" stroke-width="0.75" />
<line x1="723.3" y1="196" x2="723.3" y2="234" stroke="#1c1818" stroke-width="0.75" />
<line x1="669.5" y1="170.5" x2="736.5" y2="170.5" stroke="#1c1818" stroke-width="0.75" />
<polygon points="669.50,170.50 674.50,168.90 674.50,172.10" fill="#111"/>
<polygon points="736.50,170.50 731.50,168.90 731.50,172.10" fill="#111"/>
<line x1="674.7" y1="185.5" x2="731.7" y2="185.5" stroke="#1c1818" stroke-width="0.75" />
<polygon points="674.70,185.50 679.70,183.90 679.70,187.10" fill="#111"/>
<polygon points="731.70,185.50 726.70,183.90 726.70,187.10" fill="#111"/>
<line x1="683.5" y1="198.7" x2="723.3" y2="198.7" stroke="#1c1818" stroke-width="0.75" />
<polygon points="683.50,198.70 688.50,197.10 688.50,200.30" fill="#111"/>
<polygon points="723.30,198.70 718.30,197.10 718.30,200.30" fill="#111"/>
<ellipse cx="693.40" cy="165.02" rx="3.78" ry="3.36" fill="none" stroke="#1c1818" stroke-width="1.00"/>
<line x1="690.88" y1="170.27" x2="696.55" y2="159.77" stroke="#1c1818" stroke-width="0.89"/>
<text x="699.18" y="168.8" font-size="10.5" fill="#1c1818" stroke="#1c1818" stroke-width="0.35">175</text>
<ellipse cx="693.40" cy="179.22" rx="3.78" ry="3.36" fill="none" stroke="#1c1818" stroke-width="1.00"/>
<line x1="690.88" y1="184.47" x2="696.55" y2="173.97" stroke="#1c1818" stroke-width="0.89"/>
<text x="699.18" y="183" font-size="10.5" fill="#1c1818" stroke="#1c1818" stroke-width="0.35">155</text>
<text x="703" y="197" font-size="10.5" text-anchor="middle" fill="#1c1818" stroke="#1c1818" stroke-width="0.35">109.5</text>
<text x="742.50" y="181" font-size="10.5" fill="#1c1818" stroke="#1c1818" stroke-width="0.35">4-</text>
<ellipse cx="755.93" cy="177.22" rx="3.78" ry="3.36" fill="none" stroke="#1c1818" stroke-width="1.00"/>
<line x1="753.41" y1="182.47" x2="759.08" y2="171.97" stroke="#1c1818" stroke-width="0.89"/>
<text x="761.71" y="181" font-size="10.5" fill="#1c1818" stroke="#1c1818" stroke-width="0.35">13.5</text>
<line x1="742" y1="182.6" x2="784" y2="182.6" stroke="#1c1818" stroke-width="0.8" />
<line x1="742" y1="182.6" x2="722.5" y2="214" stroke="#1c1818" stroke-width="0.75" />
<rect x="694" y="273" width="18.8" height="13.6" fill="url(#gRod)" stroke="#555" stroke-width="0.6"/>
<rect x="683" y="287.75" width="40.6" height="35.5" fill="url(#gSide)" stroke="#111" stroke-width="0.8" />
<line x1="683" y1="296.5" x2="723.6" y2="296.5" stroke="#1c1818" stroke-width="0.75" />
<line x1="683" y1="317" x2="723.6" y2="317" stroke="#1c1818" stroke-width="0.75" />
<rect x="671" y="293" width="12" height="8.2" fill="url(#hatchD)" stroke="#111" stroke-width="0.6" />
<rect x="723.6" y="293" width="11.1" height="8.2" fill="url(#hatchD)" stroke="#111" stroke-width="0.6" />
<rect x="667" y="301.4" width="16" height="5.6" fill="url(#hatch)" stroke="#222" stroke-width="0.6" />
<rect x="723.6" y="301.4" width="15.7" height="5.6" fill="url(#hatch)" stroke="#222" stroke-width="0.6" />
<circle cx="703.2" cy="317.5" r="4.4" fill="#d8d5d5" stroke="#555" stroke-width="0.6" />
<circle cx="703.2" cy="317.5" r="2" fill="#aaa" stroke="#777" stroke-width="0.4" />
<text x="703" y="271" font-size="3.5" text-anchor="middle" fill="#1c1818" >A-A</text>
<line x1="723.3" y1="288" x2="768" y2="288" stroke="#1c1818" stroke-width="0.75" />
<line x1="735" y1="300.6" x2="752" y2="300.6" stroke="#1c1818" stroke-width="0.75" />
<line x1="739.6" y1="307.5" x2="768" y2="307.5" stroke="#1c1818" stroke-width="0.75" />
<line x1="749" y1="262" x2="749" y2="318" stroke="#1c1818" stroke-width="0.75" />
<polygon points="749.00,288.00 747.40,283.00 750.60,283.00" fill="#111"/>
<polygon points="749.00,300.60 747.40,305.60 750.60,305.60" fill="#111"/>
<line x1="764.7" y1="262" x2="764.7" y2="318" stroke="#1c1818" stroke-width="0.75" />
<polygon points="764.70,288.00 763.10,283.00 766.30,283.00" fill="#111"/>
<polygon points="764.70,307.50 763.10,312.50 766.30,312.50" fill="#111"/>
<text x="747" y="278" font-size="10.5" text-anchor="middle" fill="#1c1818" transform="rotate(-90 747 278)" stroke="#1c1818" stroke-width="0.35">21</text>
<text x="763" y="278" font-size="10.5" text-anchor="middle" fill="#1c1818" transform="rotate(-90 763 278)" stroke="#1c1818" stroke-width="0.35">36</text>
<line x1="683.5" y1="323" x2="683.5" y2="340" stroke="#1c1818" stroke-width="0.75" />
<line x1="723.3" y1="323" x2="723.3" y2="340" stroke="#1c1818" stroke-width="0.75" />
<line x1="683.5" y1="336.8" x2="786" y2="336.8" stroke="#1c1818" stroke-width="0.75" />
<polygon points="683.50,336.80 688.50,335.20 688.50,338.40" fill="#111"/>
<polygon points="723.30,336.80 718.30,335.20 718.30,338.40" fill="#111"/>
<text x="727.00" y="334.7" font-size="10" fill="#1c1818" stroke="#1c1818" stroke-width="0.35">Body </text>
<ellipse cx="756.47" cy="331.10" rx="3.60" ry="3.20" fill="none" stroke="#1c1818" stroke-width="0.95"/>
<line x1="754.07" y1="336.10" x2="759.47" y2="326.10" stroke="#1c1818" stroke-width="0.85"/>
<text x="765" y="325.5" font-size="10.5" text-anchor="start" fill="#1c1818" stroke="#1c1818" stroke-width="0.35">+ 2</text>
<text x="765" y="334.7" font-size="10.5" text-anchor="start" fill="#1c1818" stroke="#1c1818" stroke-width="0.35">+ 0.5</text>
<path d="M797.8000000000001,240 L797.8000000000001,275 A29.4,10 0 0 0 856.6,275 L856.6,240 Z" fill="url(#gDk)" stroke="#151212" stroke-width="0.6"/>
<ellipse cx="827.2" cy="240" rx="29.4" ry="10" fill="#2a2626" stroke="#151212" stroke-width="0.6" />
<circle cx="807" cy="274" r="3.5" fill="#f0eeee" stroke="#333" stroke-width="0.7" />
<circle cx="807" cy="274" r="1.75" fill="#aaa" stroke="#222" stroke-width="0.5" />
<path d="M779.8,233 L779.8,242 A47.7,26 0 0 0 875.2,242 L875.2,233 Z" fill="url(#gDk2)" stroke="#111" stroke-width="0.6"/>
<ellipse cx="827.5" cy="233" rx="47.7" ry="26" fill="#393535" stroke="#151212" stroke-width="0.7" />
<ellipse cx="827.5" cy="237.5" rx="47.7" ry="26" fill="none" stroke="#555" stroke-width="0.4" stroke-dasharray="0 75 150 200"/>
<ellipse cx="785" cy="233" rx="4.2" ry="2.6" fill="#1e1b1b" stroke="#555" stroke-width="0.5" />
<ellipse cx="870" cy="233" rx="4.2" ry="2.6" fill="#1e1b1b" stroke="#555" stroke-width="0.5" />
<ellipse cx="827.5" cy="255.5" rx="4.2" ry="2.6" fill="#1e1b1b" stroke="#555" stroke-width="0.5" />
<path d="M798,229 L798,233 A29,16 0 0 0 856,233 L856,229 Z" fill="#2a2626" stroke="#151212" stroke-width="0.6"/>
<ellipse cx="827" cy="229" rx="29" ry="16" fill="#332f2f" stroke="#151212" stroke-width="0.6" />
<path d="M813.65,210.5 L813.65,226 A13.5,7.8 0 0 0 840.65,226 L840.65,210.5 Z" fill="url(#gRod2)" stroke="#6a6666" stroke-width="0.5"/>
<ellipse cx="827.15" cy="210.5" rx="13.5" ry="7.8" fill="#f6f5f5" stroke="#777" stroke-width="0.5" />
<ellipse cx="827.15" cy="210.5" rx="10.125" ry="5.616" fill="none" stroke="#444" stroke-width="0.6" />
<ellipse cx="827.15" cy="210.5" rx="2.025" ry="1.56" fill="#777" stroke="#333" stroke-width="0.4" />
<rect x="932.4" y="210.5" width="53.2" height="54.2" fill="#3f3b3b" stroke="#111" stroke-width="0.9" />
<circle cx="959.1" cy="237.5" r="30.7" fill="none" stroke="#161313" stroke-width="0.8" />
<circle cx="959.1" cy="237.5" r="22.6" fill="none" stroke="#161313" stroke-width="0.9" />
<circle cx="959.1" cy="237.5" r="10.2" fill="#e9e7e7" stroke="#777" stroke-width="0.8" />
<circle cx="959.1" cy="237.5" r="6.5" fill="#c9c5c5" stroke="#aaa" stroke-width="0.6" />
<circle cx="937.2" cy="215.6" r="2.6" fill="#1a1717" stroke="#bbb" stroke-width="0.8" />
<circle cx="981.4" cy="215.6" r="2.6" fill="#1a1717" stroke="#bbb" stroke-width="0.8" />
<circle cx="937.2" cy="259.8" r="2.6" fill="#1a1717" stroke="#bbb" stroke-width="0.8" />
<circle cx="981.4" cy="259.8" r="2.6" fill="#1a1717" stroke="#bbb" stroke-width="0.8" />
<line x1="925" y1="237.5" x2="995" y2="237.5" stroke="#1c1818" stroke-width="1" />
<line x1="959.1" y1="200" x2="959.1" y2="268" stroke="#1c1818" stroke-width="1" />
<line x1="926" y1="237.5" x2="926" y2="224" stroke="#1c1818" stroke-width="0.8" />
<polygon points="926.00,221.00 924.20,228.00 927.80,228.00" fill="#111"/>
<line x1="992.5" y1="237.5" x2="992.5" y2="224" stroke="#1c1818" stroke-width="0.8" />
<polygon points="992.50,221.00 990.70,228.00 994.30,228.00" fill="#111"/>
<line x1="926.7" y1="170" x2="926.7" y2="215" stroke="#1c1818" stroke-width="0.75" />
<line x1="991.9" y1="170" x2="991.9" y2="215" stroke="#1c1818" stroke-width="0.75" />
<line x1="931" y1="186" x2="931" y2="215" stroke="#1c1818" stroke-width="0.75" />
<line x1="988" y1="186" x2="988" y2="215" stroke="#1c1818" stroke-width="0.75" />
<line x1="937.2" y1="200" x2="937.2" y2="215" stroke="#1c1818" stroke-width="0.75" />
<line x1="981.4" y1="200" x2="981.4" y2="215" stroke="#1c1818" stroke-width="0.75" />
<line x1="926.7" y1="172.6" x2="991.9" y2="172.6" stroke="#1c1818" stroke-width="0.75" />
<polygon points="926.70,172.60 931.70,171.00 931.70,174.20" fill="#111"/>
<polygon points="991.90,172.60 986.90,171.00 986.90,174.20" fill="#111"/>
<line x1="931" y1="188.4" x2="988" y2="188.4" stroke="#1c1818" stroke-width="0.75" />
<polygon points="931.00,188.40 936.00,186.80 936.00,190.00" fill="#111"/>
<polygon points="988.00,188.40 983.00,186.80 983.00,190.00" fill="#111"/>
<line x1="937.2" y1="202.8" x2="981.4" y2="202.8" stroke="#1c1818" stroke-width="0.75" />
<polygon points="937.20,202.80 942.20,201.20 942.20,204.40" fill="#111"/>
<polygon points="981.40,202.80 976.40,201.20 976.40,204.40" fill="#111"/>
<ellipse cx="949.70" cy="166.22" rx="3.78" ry="3.36" fill="none" stroke="#1c1818" stroke-width="1.00"/>
<line x1="947.18" y1="171.47" x2="952.85" y2="160.97" stroke="#1c1818" stroke-width="0.89"/>
<text x="955.48" y="170" font-size="10.5" fill="#1c1818" stroke="#1c1818" stroke-width="0.35">155</text>
<text x="959.3" y="185.5" font-size="10.5" text-anchor="middle" fill="#1c1818" stroke="#1c1818" stroke-width="0.35">130</text>
<text x="959.3" y="200.5" font-size="10.5" text-anchor="middle" fill="#1c1818" stroke="#1c1818" stroke-width="0.35">109.5</text>
<text x="1000.00" y="185.3" font-size="10.5" fill="#1c1818" stroke="#1c1818" stroke-width="0.35">4-</text>
<ellipse cx="1013.43" cy="181.52" rx="3.78" ry="3.36" fill="none" stroke="#1c1818" stroke-width="1.00"/>
<line x1="1010.91" y1="186.77" x2="1016.58" y2="176.27" stroke="#1c1818" stroke-width="0.89"/>
<text x="1019.21" y="185.3" font-size="10.5" fill="#1c1818" stroke="#1c1818" stroke-width="0.35">13.5</text>
<line x1="999.5" y1="187.7" x2="1046" y2="187.7" stroke="#1c1818" stroke-width="0.8" />
<line x1="999.5" y1="187.7" x2="981.5" y2="215" stroke="#1c1818" stroke-width="0.75" />
<rect x="947.7" y="275" width="22.1" height="16" fill="url(#gRod)" stroke="#555" stroke-width="0.6"/>
<rect x="936.7" y="291" width="44.7" height="40.9" fill="url(#gSide)" stroke="#111" stroke-width="0.8" />
<line x1="936.7" y1="296" x2="981.4" y2="296" stroke="#1c1818" stroke-width="0.75" />
<rect x="931" y="298" width="5.7" height="7.6" fill="#2a2626" stroke="#111" stroke-width="0.5" />
<rect x="981.4" y="298" width="5.7" height="7.6" fill="#2a2626" stroke="#111" stroke-width="0.5" />
<rect x="925.6" y="305.6" width="11.1" height="7" fill="url(#hatch)" stroke="#222" stroke-width="0.6" />
<rect x="981.4" y="305.6" width="9.3" height="7" fill="url(#hatch)" stroke="#222" stroke-width="0.6" />
<circle cx="959.3" cy="325" r="3.8" fill="#f0eeee" stroke="#333" stroke-width="0.7" />
<circle cx="959.3" cy="325" r="1.9" fill="#aaa" stroke="#222" stroke-width="0.5" />
<line x1="981.4" y1="291" x2="1024" y2="291" stroke="#1c1818" stroke-width="0.75" />
<line x1="990.7" y1="305.6" x2="1005" y2="305.6" stroke="#1c1818" stroke-width="0.75" />
<line x1="990.7" y1="312.6" x2="1024" y2="312.6" stroke="#1c1818" stroke-width="0.75" />
<line x1="997.7" y1="272" x2="997.7" y2="322" stroke="#1c1818" stroke-width="0.75" />
<polygon points="997.70,291.00 996.10,286.00 999.30,286.00" fill="#111"/>
<polygon points="997.70,305.60 996.10,310.60 999.30,310.60" fill="#111"/>
<line x1="1019.8" y1="272" x2="1019.8" y2="322" stroke="#1c1818" stroke-width="0.75" />
<polygon points="1019.80,291.00 1018.20,286.00 1021.40,286.00" fill="#111"/>
<polygon points="1019.80,312.60 1018.20,317.60 1021.40,317.60" fill="#111"/>
<text x="997" y="280" font-size="10.5" text-anchor="middle" fill="#1c1818" transform="rotate(-90 997 280)" stroke="#1c1818" stroke-width="0.35">21</text>
<text x="1018.5" y="280" font-size="10.5" text-anchor="middle" fill="#1c1818" transform="rotate(-90 1018.5 280)" stroke="#1c1818" stroke-width="0.35">36</text>
<line x1="936.7" y1="332" x2="936.7" y2="342" stroke="#1c1818" stroke-width="0.75" />
<line x1="981.4" y1="332" x2="981.4" y2="342" stroke="#1c1818" stroke-width="0.75" />
<line x1="936.7" y1="338.8" x2="1072" y2="338.8" stroke="#1c1818" stroke-width="0.75" />
<polygon points="936.70,338.80 941.70,337.20 941.70,340.40" fill="#111"/>
<polygon points="981.40,338.80 976.40,337.20 976.40,340.40" fill="#111"/>
<text x="993.00" y="336.5" font-size="10" fill="#1c1818" stroke="#1c1818" stroke-width="0.35">Body </text>
<ellipse cx="1022.47" cy="332.90" rx="3.60" ry="3.20" fill="none" stroke="#1c1818" stroke-width="0.95"/>
<line x1="1020.07" y1="337.90" x2="1025.47" y2="327.90" stroke="#1c1818" stroke-width="0.85"/>
<text x="1040" y="326" font-size="10.5" text-anchor="start" fill="#1c1818" stroke="#1c1818" stroke-width="0.35">+ 2</text>
<text x="1040" y="336.3" font-size="10.5" text-anchor="start" fill="#1c1818" stroke="#1c1818" stroke-width="0.35">+ 0.5</text>
<path d="M1060,236 L1060,276 A28,8 0 0 0 1116,276 L1116,236 Z" fill="url(#gDk)" stroke="#151212" stroke-width="0.6"/>
<ellipse cx="1088" cy="236" rx="28" ry="8" fill="#2a2626" stroke="#151212" stroke-width="0.6" />
<circle cx="1068" cy="273" r="3.5" fill="#f0eeee" stroke="#333" stroke-width="0.7" />
<circle cx="1068" cy="273" r="1.75" fill="#aaa" stroke="#222" stroke-width="0.5" />
<polygon points="1042.00,232.00 1088.00,259.50 1133.40,232.00 1133.40,240.50 1088.00,268.00 1042.00,240.50" fill="#262222" stroke="#111" stroke-width="0.6"/>
<polygon points="1088.00,259.50 1133.40,232.00 1133.40,240.50 1088.00,268.00" fill="#1c1919" stroke="#111" stroke-width="0.5"/>
<line x1="1042" y1="236.3" x2="1088" y2="263.8" stroke="#1c1818" stroke-width="0.75" />
<line x1="1088" y1="263.8" x2="1133.4" y2="236.3" stroke="#1c1818" stroke-width="0.75" />
<polygon points="1042.00,232.00 1088.00,205.00 1133.40,232.00 1088.00,259.50" fill="#393535" stroke="#151212" stroke-width="0.7"/>
<ellipse cx="1050" cy="232" rx="4" ry="2.4" fill="#1e1b1b" stroke="#555" stroke-width="0.5" />
<ellipse cx="1125.5" cy="232" rx="4" ry="2.4" fill="#1e1b1b" stroke="#555" stroke-width="0.5" />
<ellipse cx="1088" cy="253" rx="4" ry="2.4" fill="#1e1b1b" stroke="#555" stroke-width="0.5" />
<path d="M1060.2,228.4 L1060.2,233 A27.3,14.7 0 0 0 1114.8,233 L1114.8,228.4 Z" fill="#2a2626" stroke="#151212" stroke-width="0.6"/>
<ellipse cx="1087.5" cy="228.4" rx="27.3" ry="14.7" fill="#332f2f" stroke="#151212" stroke-width="0.6" />
<path d="M1074.7,211 L1074.7,227 A13.3,6.5 0 0 0 1101.3,227 L1101.3,211 Z" fill="url(#gRod2)" stroke="#6a6666" stroke-width="0.5"/>
<ellipse cx="1088" cy="211" rx="13.3" ry="6.5" fill="#f6f5f5" stroke="#777" stroke-width="0.5" />
<ellipse cx="1088" cy="211" rx="9.975000000000001" ry="4.68" fill="none" stroke="#444" stroke-width="0.6" />
<ellipse cx="1088" cy="211" rx="1.995" ry="1.3" fill="#777" stroke="#333" stroke-width="0.4" />
<rect x="671" y="407.3" width="57.6" height="57.6" fill="#3f3b3b" stroke="#111" stroke-width="0.9" />
<circle cx="699.8" cy="436.1" r="30" fill="none" stroke="#161313" stroke-width="0.9" />
<circle cx="699.8" cy="436.1" r="22" fill="none" stroke="#161313" stroke-width="0.9" />
<circle cx="699.8" cy="436.1" r="10" fill="#e9e7e7" stroke="#777" stroke-width="0.8" />
<circle cx="699.8" cy="436.1" r="6.3" fill="#c9c5c5" stroke="#aaa" stroke-width="0.6" />
<rect x="693" y="407.3" width="14" height="8" fill="#ffffff" stroke="#333" stroke-width="0.5" />
<rect x="693" y="457" width="14" height="8" fill="#ffffff" stroke="#333" stroke-width="0.5" />
<circle cx="679.1" cy="414.7" r="2.6" fill="#1a1717" stroke="#bbb" stroke-width="0.8" />
<circle cx="720.6" cy="414.7" r="2.6" fill="#1a1717" stroke="#bbb" stroke-width="0.8" />
<circle cx="679.1" cy="457.5" r="2.6" fill="#1a1717" stroke="#bbb" stroke-width="0.8" />
<circle cx="720.6" cy="457.5" r="2.6" fill="#1a1717" stroke="#bbb" stroke-width="0.8" />
<line x1="663" y1="436.1" x2="735.5" y2="436.1" stroke="#1c1818" stroke-width="1" />
<line x1="699.8" y1="401" x2="699.8" y2="470" stroke="#1c1818" stroke-width="1" />
<line x1="663" y1="436.1" x2="663" y2="423" stroke="#1c1818" stroke-width="0.8" />
<polygon points="663.00,420.00 661.20,427.00 664.80,427.00" fill="#111"/>
<line x1="735.5" y1="436.1" x2="735.5" y2="423" stroke="#1c1818" stroke-width="0.8" />
<polygon points="735.50,420.00 733.70,427.00 737.30,427.00" fill="#111"/>
<line x1="652" y1="492" x2="741" y2="395" stroke="#1c1818" stroke-width="0.8" />
<line x1="671" y1="383" x2="671" y2="415" stroke="#1c1818" stroke-width="0.75" />
<line x1="728.6" y1="383" x2="728.6" y2="415" stroke="#1c1818" stroke-width="0.75" />
<line x1="678" y1="397" x2="678" y2="415" stroke="#1c1818" stroke-width="0.75" />
<line x1="721" y1="397" x2="721" y2="415" stroke="#1c1818" stroke-width="0.75" />
<line x1="671" y1="386.6" x2="728.6" y2="386.6" stroke="#1c1818" stroke-width="0.75" />
<polygon points="671.00,386.60 676.00,385.00 676.00,388.20" fill="#111"/>
<polygon points="728.60,386.60 723.60,385.00 723.60,388.20" fill="#111"/>
<line x1="678" y1="400" x2="721" y2="400" stroke="#1c1818" stroke-width="0.75" />
<polygon points="678.00,400.00 683.00,398.40 683.00,401.60" fill="#111"/>
<polygon points="721.00,400.00 716.00,398.40 716.00,401.60" fill="#111"/>
<text x="699.8" y="384.3" font-size="10.5" text-anchor="middle" fill="#1c1818" stroke="#1c1818" stroke-width="0.35">140</text>
<text x="699.8" y="398" font-size="10.5" text-anchor="middle" fill="#1c1818" stroke="#1c1818" stroke-width="0.35">109.5</text>
<text x="735.50" y="394.6" font-size="10.5" fill="#1c1818" stroke="#1c1818" stroke-width="0.35">4-</text>
<ellipse cx="748.93" cy="390.82" rx="3.78" ry="3.36" fill="none" stroke="#1c1818" stroke-width="1.00"/>
<line x1="746.41" y1="396.07" x2="752.08" y2="385.57" stroke="#1c1818" stroke-width="0.89"/>
<text x="754.71" y="394.6" font-size="10.5" fill="#1c1818" stroke="#1c1818" stroke-width="0.35">13.5</text>
<line x1="735" y1="397" x2="778" y2="397" stroke="#1c1818" stroke-width="0.8" />
<line x1="721" y1="414.7" x2="756" y2="414.7" stroke="#1c1818" stroke-width="0.75" />
<line x1="721" y1="457.5" x2="756" y2="457.5" stroke="#1c1818" stroke-width="0.75" />
<line x1="728.6" y1="407.3" x2="772" y2="407.3" stroke="#1c1818" stroke-width="0.75" />
<line x1="728.6" y1="464.9" x2="772" y2="464.9" stroke="#1c1818" stroke-width="0.75" />
<line x1="751.7" y1="414.7" x2="751.7" y2="457.5" stroke="#1c1818" stroke-width="0.75" />
<polygon points="751.70,414.70 750.10,419.70 753.30,419.70" fill="#111"/>
<polygon points="751.70,457.50 750.10,452.50 753.30,452.50" fill="#111"/>
<line x1="767.8" y1="407.3" x2="767.8" y2="464.9" stroke="#1c1818" stroke-width="0.75" />
<polygon points="767.80,407.30 766.20,412.30 769.40,412.30" fill="#111"/>
<polygon points="767.80,464.90 766.20,459.90 769.40,459.90" fill="#111"/>
<text x="749.5" y="436" font-size="10.5" text-anchor="middle" fill="#1c1818" transform="rotate(-90 749.5 436)" stroke="#1c1818" stroke-width="0.35">109.5</text>
<text x="765.5" y="436" font-size="10.5" text-anchor="middle" fill="#1c1818" transform="rotate(-90 765.5 436)" stroke="#1c1818" stroke-width="0.35">140</text>
<g transform="rotate(-42 659 481)">
<ellipse cx="649.40" cy="477.22" rx="3.78" ry="3.36" fill="none" stroke="#1c1818" stroke-width="1.00"/>
<line x1="646.88" y1="482.47" x2="652.55" y2="471.97" stroke="#1c1818" stroke-width="0.89"/>
<text x="655.18" y="481" font-size="10.5" fill="#1c1818" stroke="#1c1818" stroke-width="0.35">155</text>
</g>
<line x1="693" y1="465" x2="693" y2="480" stroke="#1c1818" stroke-width="0.75" />
<line x1="707" y1="465" x2="707" y2="480" stroke="#1c1818" stroke-width="0.75" />
<line x1="682" y1="477.6" x2="718" y2="477.6" stroke="#1c1818" stroke-width="0.75" />
<polygon points="693.00,477.60 688.00,476.00 688.00,479.20" fill="#111"/>
<polygon points="707.00,477.60 712.00,476.00 712.00,479.20" fill="#111"/>
<text x="699.8" y="475.3" font-size="10.5" text-anchor="middle" fill="#1c1818" stroke="#1c1818" stroke-width="0.35">24</text>
<text x="699.8" y="484" font-size="3.5" text-anchor="middle" fill="#1c1818" >A-A</text>
<rect x="689.5" y="485.6" width="21.8" height="16.2" fill="url(#gRod)" stroke="#555" stroke-width="0.6"/>
<rect x="678" y="501.8" width="42.6" height="32.2" fill="url(#gSide)" stroke="#111" stroke-width="0.8" />
<line x1="678" y1="510" x2="720.6" y2="510" stroke="#1c1818" stroke-width="0.75" />
<rect x="671" y="534" width="57.6" height="5.8" fill="#2e2a2a" stroke="#111" stroke-width="0.6" />
<rect x="665.3" y="539.8" width="69.1" height="9.2" fill="url(#hatch)" stroke="#222" stroke-width="0.6" />
<circle cx="699.8" cy="528" r="3.8" fill="#f0eeee" stroke="#333" stroke-width="0.7" />
<circle cx="699.8" cy="528" r="1.9" fill="#aaa" stroke="#222" stroke-width="0.5" />
<line x1="728.6" y1="539.8" x2="749" y2="539.8" stroke="#1c1818" stroke-width="0.75" />
<line x1="734.4" y1="549" x2="749" y2="549" stroke="#1c1818" stroke-width="0.75" />
<line x1="744.8" y1="512" x2="744.8" y2="553" stroke="#1c1818" stroke-width="0.75" />
<polygon points="744.80,539.80 743.20,534.80 746.40,534.80" fill="#111"/>
<polygon points="744.80,549.00 743.20,554.00 746.40,554.00" fill="#111"/>
<text x="744" y="520" font-size="10.5" text-anchor="middle" fill="#1c1818" transform="rotate(-90 744 520)" stroke="#1c1818" stroke-width="0.35">12</text>
<polygon points="777.30,486.80 829.50,458.50 882.00,489.60 829.80,517.90 808.80,505.46 816.70,501.16 804.10,493.70 796.20,498.00" fill="#3a3636" stroke="#141111" stroke-width="0.6"/>
<polygon points="777.30,486.80 796.20,498.00 796.20,505.00 777.30,493.80" fill="#2a2626" stroke="#111" stroke-width="0.5"/>
<polygon points="796.20,498.00 804.10,493.70 804.10,500.70 796.20,505.00" fill="#1c1919" stroke="#111" stroke-width="0.5"/>
<polygon points="808.80,505.46 829.80,517.90 829.80,524.90 808.80,512.46" fill="#2a2626" stroke="#111" stroke-width="0.5"/>
<polygon points="829.80,517.90 882.00,489.60 882.00,496.60 829.80,524.90" fill="#1e1b1b" stroke="#111" stroke-width="0.5"/>
<ellipse cx="789.5" cy="487.5" rx="3.6" ry="2.2" fill="#1e1b1b" stroke="#666" stroke-width="0.5" />
<ellipse cx="868" cy="489.5" rx="3.6" ry="2.2" fill="#1e1b1b" stroke="#666" stroke-width="0.5" />
<ellipse cx="829" cy="508" rx="3.6" ry="2.2" fill="#1e1b1b" stroke="#666" stroke-width="0.5" />
<path d="M801,454 L801,495 A28,14 0 0 0 857,495 L857,454 Z" fill="url(#gDk2)" stroke="#151212" stroke-width="0.6"/>
<ellipse cx="829" cy="454" rx="28" ry="14" fill="#353131" stroke="#151212" stroke-width="0.6" />
<path d="M801,475 A28,14 0 0 0 857,475" fill="none" stroke="#555" stroke-width="0.6"/>
<circle cx="809.8" cy="499.6" r="3.8" fill="#f0eeee" stroke="#333" stroke-width="0.7" />
<circle cx="809.8" cy="499.6" r="1.9" fill="#aaa" stroke="#222" stroke-width="0.5" />
<path d="M816.0,438 L816.0,455 A13.7,7 0 0 0 843.4000000000001,455 L843.4000000000001,438 Z" fill="url(#gRod2)" stroke="#6a6666" stroke-width="0.5"/>
<ellipse cx="829.7" cy="438" rx="13.7" ry="7" fill="#f6f5f5" stroke="#777" stroke-width="0.5" />
<ellipse cx="829.7" cy="438" rx="10.274999999999999" ry="5.04" fill="none" stroke="#444" stroke-width="0.6" />
<ellipse cx="829.7" cy="438" rx="2.0549999999999997" ry="1.4000000000000001" fill="#777" stroke="#333" stroke-width="0.4" />
<rect x="941.5" y="397" width="53.5" height="54.5" fill="#403c3c" stroke="#111" stroke-width="0.9" />
<circle cx="948.4" cy="405" r="2.6" fill="#1a1717" stroke="#ddd" stroke-width="0.9" />
<circle cx="987.1" cy="405" r="2.6" fill="#1a1717" stroke="#ddd" stroke-width="0.9" />
<circle cx="948.4" cy="444.2" r="2.6" fill="#1a1717" stroke="#ddd" stroke-width="0.9" />
<circle cx="987.1" cy="444.2" r="2.6" fill="#1a1717" stroke="#ddd" stroke-width="0.9" />
<circle cx="968" cy="424.6" r="12" fill="#2c2828" stroke="#5a5555" stroke-width="0.7" />
<circle cx="968" cy="424.6" r="6" fill="none" stroke="#666" stroke-width="0.6" />
<circle cx="961.5" cy="418.1" r="1.3" fill="#222" stroke="#bbb" stroke-width="0.5" />
<circle cx="974.5" cy="418.1" r="1.3" fill="#222" stroke="#bbb" stroke-width="0.5" />
<circle cx="961.5" cy="431.1" r="1.3" fill="#222" stroke="#bbb" stroke-width="0.5" />
<circle cx="974.5" cy="431.1" r="1.3" fill="#222" stroke="#bbb" stroke-width="0.5" />
<line x1="936" y1="424.6" x2="1000" y2="424.6" stroke="#1c1818" stroke-width="0.75" />
<line x1="968" y1="390" x2="968" y2="462" stroke="#1c1818" stroke-width="0.75" />
<line x1="935" y1="444" x2="935" y2="459" stroke="#1c1818" stroke-width="0.75" />
<polygon points="935.00,460.00 933.50,455.00 936.50,455.00" fill="#111"/>
<line x1="1001" y1="432" x2="1001" y2="447" stroke="#1c1818" stroke-width="0.75" />
<polygon points="1001.00,448.00 999.50,443.00 1002.50,443.00" fill="#111"/>
<line x1="999" y1="407.5" x2="975" y2="430" stroke="#1c1818" stroke-width="0.75" />
<text x="999" y="406" font-size="6.5" text-anchor="start" fill="#1c1818" stroke="#1c1818" stroke-width="0.35">M20</text>
<line x1="998" y1="407.5" x2="1013" y2="407.5" stroke="#1c1818" stroke-width="0.75" />
<line x1="941.5" y1="378" x2="941.5" y2="405" stroke="#1c1818" stroke-width="0.75" />
<line x1="995" y1="378" x2="995" y2="405" stroke="#1c1818" stroke-width="0.75" />
<line x1="948.4" y1="391" x2="948.4" y2="405" stroke="#1c1818" stroke-width="0.75" />
<line x1="987.1" y1="391" x2="987.1" y2="405" stroke="#1c1818" stroke-width="0.75" />
<line x1="941.5" y1="382" x2="995" y2="382" stroke="#1c1818" stroke-width="0.75" />
<polygon points="941.50,382.00 946.50,380.40 946.50,383.60" fill="#111"/>
<polygon points="995.00,382.00 990.00,380.40 990.00,383.60" fill="#111"/>
<line x1="948.4" y1="394.6" x2="987.1" y2="394.6" stroke="#1c1818" stroke-width="0.75" />
<polygon points="948.40,394.60 953.40,393.00 953.40,396.20" fill="#111"/>
<polygon points="987.10,394.60 982.10,393.00 982.10,396.20" fill="#111"/>
<text x="968" y="380" font-size="10.5" text-anchor="middle" fill="#1c1818" stroke="#1c1818" stroke-width="0.35">140</text>
<text x="968" y="393" font-size="10.5" text-anchor="middle" fill="#1c1818" stroke="#1c1818" stroke-width="0.35">109.5</text>
<line x1="955.5" y1="430" x2="955.5" y2="466" stroke="#1c1818" stroke-width="0.75" />
<line x1="980.5" y1="430" x2="980.5" y2="466" stroke="#1c1818" stroke-width="0.75" />
<line x1="951" y1="462" x2="985" y2="462" stroke="#1c1818" stroke-width="0.75" />
<polygon points="955.50,462.00 960.50,460.40 960.50,463.60" fill="#111"/>
<polygon points="980.50,462.00 975.50,460.40 975.50,463.60" fill="#111"/>
<ellipse cx="961.32" cy="456.52" rx="3.78" ry="3.36" fill="none" stroke="#1c1818" stroke-width="1.00"/>
<line x1="958.80" y1="461.77" x2="964.47" y2="451.27" stroke="#1c1818" stroke-width="0.89"/>
<text x="967.10" y="460.3" font-size="10.5" fill="#1c1818" stroke="#1c1818" stroke-width="0.35">80</text>
<text x="968" y="466" font-size="3.5" text-anchor="middle" fill="#1c1818" >A-A</text>
<rect x="958.8" y="468.4" width="19.5" height="14.9" fill="url(#gRod)" stroke="#555" stroke-width="0.6"/>
<rect x="947.2" y="483.3" width="40.4" height="35.7" fill="url(#gSide)" stroke="#111" stroke-width="0.8" />
<line x1="947.2" y1="490" x2="987.6" y2="490" stroke="#1c1818" stroke-width="0.75" />
<rect x="941.5" y="519.7" width="53.5" height="9.7" fill="url(#hatchD)" stroke="#111" stroke-width="0.7" />
<circle cx="968" cy="512" r="4.6" fill="#d8d5d5" stroke="#555" stroke-width="0.6" />
<circle cx="968" cy="512" r="2" fill="#aaa" stroke="#777" stroke-width="0.4" />
<line x1="905" y1="500" x2="1030" y2="500" stroke="#1c1818" stroke-width="0.75" />
<ellipse cx="908.71" cy="494.88" rx="3.42" ry="3.04" fill="none" stroke="#1c1818" stroke-width="0.90"/>
<line x1="906.43" y1="499.63" x2="911.56" y2="490.13" stroke="#1c1818" stroke-width="0.81"/>
<text x="913.93" y="498.3" font-size="9.5" fill="#1c1818" stroke="#1c1818" stroke-width="0.35">13.5(4x)</text>
<ellipse cx="993.71" cy="494.88" rx="3.42" ry="3.04" fill="none" stroke="#1c1818" stroke-width="0.90"/>
<line x1="991.43" y1="499.63" x2="996.56" y2="490.13" stroke="#1c1818" stroke-width="0.81"/>
<text x="998.93" y="498.3" font-size="9.5" fill="#1c1818" stroke="#1c1818" stroke-width="0.35">11(4x)</text>
<line x1="995" y1="519.7" x2="1040" y2="519.7" stroke="#1c1818" stroke-width="0.75" />
<line x1="995" y1="529.4" x2="1060" y2="529.4" stroke="#1c1818" stroke-width="0.75" />
<line x1="1038" y1="495" x2="1038" y2="535" stroke="#1c1818" stroke-width="0.75" />
<polygon points="1038.00,519.70 1036.40,514.70 1039.60,514.70" fill="#111"/>
<polygon points="1038.00,529.40 1036.40,534.40 1039.60,534.40" fill="#111"/>
<text x="1036" y="504" font-size="9.5" text-anchor="middle" fill="#1c1818" transform="rotate(-90 1036 504)" stroke="#1c1818" stroke-width="0.35">15(4x)</text>
<text x="1047.5" y="493" font-size="10.5" text-anchor="middle" fill="#1c1818" transform="rotate(-90 1047.5 493)" stroke="#1c1818" stroke-width="0.35">0</text>
<text x="1057" y="500" font-size="10.5" text-anchor="middle" fill="#1c1818" transform="rotate(-90 1057 500)" stroke="#1c1818" stroke-width="0.35">20 -0.1</text>
<line x1="1057" y1="515" x2="1057" y2="535" stroke="#1c1818" stroke-width="0.75" />
<text x="935.5" y="519" font-size="9.5" text-anchor="middle" fill="#1c1818" transform="rotate(-90 935.5 519)" stroke="#1c1818" stroke-width="0.35">13(4x)</text>
<line x1="938" y1="510" x2="938" y2="535" stroke="#1c1818" stroke-width="0.75" />
<line x1="908" y1="549" x2="963" y2="549" stroke="#1c1818" stroke-width="0.75" />
<line x1="985" y1="549" x2="1018" y2="549" stroke="#1c1818" stroke-width="0.75" />
<ellipse cx="911.71" cy="544.38" rx="3.42" ry="3.04" fill="none" stroke="#1c1818" stroke-width="0.90"/>
<line x1="909.43" y1="549.13" x2="914.56" y2="539.63" stroke="#1c1818" stroke-width="0.81"/>
<text x="916.93" y="547.8" font-size="9.5" fill="#1c1818" stroke="#1c1818" stroke-width="0.35">20(4x)</text>
<ellipse cx="989.00" cy="544.38" rx="3.42" ry="3.04" fill="none" stroke="#1c1818" stroke-width="0.90"/>
<line x1="986.73" y1="549.13" x2="991.86" y2="539.63" stroke="#1c1818" stroke-width="0.81"/>
<text x="994.23" y="547.8" font-size="9.5" fill="#1c1818" stroke="#1c1818" stroke-width="0.35">18(4x)</text>
<line x1="953" y1="519" x2="953" y2="552" stroke="#1c1818" stroke-width="0.75" />
<line x1="963" y1="519" x2="963" y2="552" stroke="#1c1818" stroke-width="0.75" />
<line x1="978" y1="519" x2="978" y2="552" stroke="#1c1818" stroke-width="0.75" />
<line x1="983" y1="519" x2="983" y2="552" stroke="#1c1818" stroke-width="0.75" />
<polygon points="1040.80,437.50 1087.00,463.60 1134.40,436.80 1134.40,447.60 1087.00,474.40 1040.80,448.30" fill="#262222" stroke="#111" stroke-width="0.6"/>
<polygon points="1087.00,463.60 1134.40,436.80 1134.40,447.60 1087.00,474.40" fill="#1c1919" stroke="#111" stroke-width="0.5"/>
<polygon points="1040.80,437.50 1087.00,410.50 1134.40,436.80 1087.00,463.60" fill="#393535" stroke="#151212" stroke-width="0.7"/>
<ellipse cx="1052.4" cy="436.6" rx="3.8" ry="2.3" fill="#1e1b1b" stroke="#666" stroke-width="0.5" />
<ellipse cx="1122.2" cy="436.6" rx="3.8" ry="2.3" fill="#1e1b1b" stroke="#666" stroke-width="0.5" />
<ellipse cx="1087" cy="456.1" rx="3.8" ry="2.3" fill="#1e1b1b" stroke="#666" stroke-width="0.5" />
<path d="M1062.5,401.9 L1062.5,437 A24.75,12.9 0 0 0 1112.0,437 L1112.0,401.9 Z" fill="url(#gDk2)" stroke="#151212" stroke-width="0.6"/>
<ellipse cx="1087.25" cy="401.9" rx="24.75" ry="12.9" fill="#3a3636" stroke="#151212" stroke-width="0.6" />
<path d="M1062.5,410.5 A24.75,12.9 0 0 0 1112,410.5" fill="none" stroke="#111" stroke-width="0.8"/>
<path d="M1062.5,423.6 A24.75,12.9 0 0 0 1112,423.6" fill="none" stroke="#666" stroke-width="0.6"/>
<circle cx="1070" cy="440.5" r="3.6" fill="#f0eeee" stroke="#333" stroke-width="0.7" />
<circle cx="1070" cy="440.5" r="1.8" fill="#aaa" stroke="#222" stroke-width="0.5" />
<path d="M1075.3999999999999,388 L1075.3999999999999,399.5 A11.9,7.8 0 0 0 1099.2,399.5 L1099.2,388 Z" fill="url(#gRod2)" stroke="#6a6666" stroke-width="0.5"/>
<ellipse cx="1087.3" cy="388" rx="11.9" ry="7.8" fill="#f6f5f5" stroke="#777" stroke-width="0.5" />
<ellipse cx="1087.3" cy="388" rx="8.925" ry="5.616" fill="none" stroke="#444" stroke-width="0.6" />
<ellipse cx="1087.3" cy="388" rx="1.785" ry="1.56" fill="#777" stroke="#333" stroke-width="0.4" />
<path d="M694,624.4 L683,624.4 Q678.9,624.4 678.9,628.4 L678.9,638.7 Q678.9,642.7 683,642.7 L694,642.7 Z" fill="url(#gRod2)" stroke="#555" stroke-width="0.6"/>
<rect x="693.8" y="614.3" width="8" height="38.30000000000007" fill="#3e3a3a" stroke="#111" stroke-width="0.6" />
<rect x="717.4" y="614.3" width="11.5" height="38.30000000000007" fill="#4a4545" stroke="#111" stroke-width="0.6" />
<rect x="719.5" y="615.3" width="1.6" height="36.30000000000007" fill="#b5b0b0" stroke="none" stroke-width="0.6" />
<rect x="724" y="615.3" width="1.2" height="36.30000000000007" fill="#8d8888" stroke="none" stroke-width="0.6" />
<rect x="701.3" y="594" width="16.1" height="82.70000000000005" fill="#464242" stroke="#111" stroke-width="0.8" />
<circle cx="709.4" cy="599.8" r="3" fill="#bbb" stroke="#222" stroke-width="0.6" />
<circle cx="709.4" cy="659.5" r="3" fill="#bbb" stroke="#222" stroke-width="0.6" />
<circle cx="709.4" cy="671.6" r="3" fill="#bbb" stroke="#222" stroke-width="0.6" />
<circle cx="723.1" cy="634.2" r="3.6" fill="#f0eeee" stroke="#333" stroke-width="0.7" />
<circle cx="723.1" cy="634.2" r="1.8" fill="#aaa" stroke="#222" stroke-width="0.5" />
<line x1="665" y1="633.5" x2="743" y2="633.5" stroke="#1c1818" stroke-width="0.75" />
<line x1="652" y1="594" x2="752" y2="594" stroke="#1c1818" stroke-width="0.75" />
<line x1="652" y1="676.7" x2="752" y2="676.7" stroke="#1c1818" stroke-width="0.75" />
<line x1="668" y1="606.7" x2="720" y2="606.7" stroke="#1c1818" stroke-width="0.75" />
<line x1="668" y1="664.8" x2="720" y2="664.8" stroke="#1c1818" stroke-width="0.75" />
<line x1="657" y1="594" x2="657" y2="676.7" stroke="#1c1818" stroke-width="0.75" />
<polygon points="657.00,594.00 655.40,599.00 658.60,599.00" fill="#111"/>
<polygon points="657.00,676.70 655.40,671.70 658.60,671.70" fill="#111"/>
<line x1="747.7" y1="599.8" x2="747.7" y2="671.6" stroke="#1c1818" stroke-width="0.75" />
<polygon points="747.70,599.80 746.10,604.80 749.30,604.80" fill="#111"/>
<polygon points="747.70,671.60 746.10,666.60 749.30,666.60" fill="#111"/>
<line x1="673" y1="583" x2="673" y2="600" stroke="#1c1818" stroke-width="0.75" />
<polygon points="673.00,594.00 671.40,589.00 674.60,589.00" fill="#111"/>
<line x1="673" y1="606.7" x2="673" y2="625" stroke="#1c1818" stroke-width="0.75" />
<polygon points="673.00,606.70 671.40,611.70 674.60,611.70" fill="#111"/>
<line x1="673" y1="645" x2="673" y2="664.8" stroke="#1c1818" stroke-width="0.75" />
<polygon points="673.00,664.80 671.40,659.80 674.60,659.80" fill="#111"/>
<line x1="673" y1="676.7" x2="673" y2="690" stroke="#1c1818" stroke-width="0.75" />
<polygon points="673.00,676.70 671.40,681.70 674.60,681.70" fill="#111"/>
<text x="658.5" y="635" font-size="8.5" text-anchor="middle" fill="#1c1818" transform="rotate(-90 658.5 635)" >220</text>
<text x="670.5" y="600.5" font-size="8.5" text-anchor="middle" fill="#1c1818" transform="rotate(-90 670.5 600.5)" >27.5</text>
<text x="670.5" y="625" font-size="8.5" text-anchor="middle" fill="#1c1818" transform="rotate(-90 670.5 625)" >77.5</text>
<text x="670.5" y="670.5" font-size="8.5" text-anchor="middle" fill="#1c1818" transform="rotate(-90 670.5 670.5)" >27.5</text>
<text x="751" y="635" font-size="8.5" text-anchor="middle" fill="#1c1818" transform="rotate(-90 751 635)" >195</text>
<line x1="747.7" y1="676.7" x2="747.7" y2="692" stroke="#1c1818" stroke-width="0.75" />
<text x="751" y="686" font-size="8.5" text-anchor="middle" fill="#1c1818" transform="rotate(-90 751 686)" >12.5</text>
<line x1="701.3" y1="586.8" x2="717.4" y2="586.8" stroke="#1c1818" stroke-width="0.75" />
<polygon points="701.30,586.80 706.30,585.20 706.30,588.40" fill="#111"/>
<polygon points="717.40,586.80 712.40,585.20 712.40,588.40" fill="#111"/>
<line x1="701.3" y1="583" x2="701.3" y2="594" stroke="#1c1818" stroke-width="0.75" />
<line x1="717.4" y1="583" x2="717.4" y2="594" stroke="#1c1818" stroke-width="0.75" />
<line x1="690" y1="586.8" x2="730" y2="586.8" stroke="#1c1818" stroke-width="0.75" />
<text x="709.5" y="587.5" font-size="8" text-anchor="middle" fill="#1c1818" >30</text>
<text x="734.00" y="586" font-size="8" fill="#1c1818" stroke="#1c1818" stroke-width="0.35">2-</text>
<ellipse cx="744.23" cy="583.12" rx="2.88" ry="2.56" fill="none" stroke="#1c1818" stroke-width="0.76"/>
<line x1="742.31" y1="587.12" x2="746.63" y2="579.12" stroke="#1c1818" stroke-width="0.68"/>
<text x="748.63" y="586" font-size="8" fill="#1c1818" stroke="#1c1818" stroke-width="0.35">13</text>
<line x1="733" y1="587.5" x2="757" y2="587.5" stroke="#1c1818" stroke-width="0.75" />
<line x1="733" y1="587.5" x2="712" y2="598" stroke="#1c1818" stroke-width="0.75" />
<path d="M694,712.2 L683,712.2 Q678.9,712.2 678.9,716.2 L678.9,725.4 Q678.9,729.4 683,729.4 L694,729.4 Z" fill="url(#gRod2)" stroke="#555" stroke-width="0.6"/>
<rect x="693.8" y="703" width="8" height="36.799999999999955" fill="#3e3a3a" stroke="#111" stroke-width="0.6" />
<rect x="717.4" y="703" width="11.5" height="36.799999999999955" fill="#4a4545" stroke="#111" stroke-width="0.6" />
<rect x="719.5" y="704" width="1.6" height="34.799999999999955" fill="#b5b0b0" stroke="none" stroke-width="0.6" />
<rect x="724" y="704" width="1.2" height="34.799999999999955" fill="#8d8888" stroke="none" stroke-width="0.6" />
<rect x="701.3" y="695" width="16.1" height="52.799999999999955" fill="#464242" stroke="#111" stroke-width="0.8" />
<path d="M728.9,699.2 L739,699.2 L739,759.2 L665,759.2 L665,748.2 L728.9,748.2 Z" fill="url(#hatch)" stroke="#222" stroke-width="0.6"/>
<line x1="670" y1="720.5" x2="745" y2="720.5" stroke="#1c1818" stroke-width="0.75" />
<line x1="660" y1="694" x2="715" y2="694" stroke="#1c1818" stroke-width="0.75" />
<line x1="662.8" y1="694" x2="662.8" y2="748.2" stroke="#1c1818" stroke-width="0.75" />
<polygon points="662.80,694.00 661.20,699.00 664.40,699.00" fill="#111"/>
<polygon points="662.80,748.20 661.20,743.20 664.40,743.20" fill="#111"/>
<line x1="673" y1="710" x2="673" y2="748" stroke="#1c1818" stroke-width="0.75" />
<polygon points="673.00,748.20 671.40,743.20 674.60,743.20" fill="#111"/>
<polygon points="673.00,720.50 671.40,725.50 674.60,725.50" fill="#111"/>
<line x1="688.7" y1="730" x2="688.7" y2="760" stroke="#1c1818" stroke-width="0.75" />
<polygon points="688.70,748.20 687.10,743.20 690.30,743.20" fill="#111"/>
<text x="660.5" y="726" font-size="8.5" text-anchor="middle" fill="#1c1818" transform="rotate(-90 660.5 726)" >148</text>
<text x="670.5" y="737" font-size="8.5" text-anchor="middle" fill="#1c1818" transform="rotate(-90 670.5 737)" >74</text>
<text x="686" y="744" font-size="8.5" text-anchor="middle" fill="#1c1818" transform="rotate(-90 686 744)" >20</text>
<polygon points="792.00,645.80 837.20,667.30 848.50,661.70 803.30,640.20" fill="#555050" stroke="#141111" stroke-width="0.5"/>
<polygon points="837.20,667.30 848.50,661.70 848.50,698.70 837.20,704.30" fill="#333030" stroke="#141111" stroke-width="0.5"/>
<polygon points="792.00,645.80 837.20,667.30 837.20,714.60 792.00,693.10" fill="#434040" stroke="#141111" stroke-width="0.5"/>
<polygon points="782.96,678.50 792.00,682.80 803.30,677.20 794.26,672.90" fill="#4a4646" stroke="#141111" stroke-width="0.5"/>
<polygon points="782.96,678.50 792.00,682.80 792.00,693.10 782.96,688.80" fill="#353131" stroke="#141111" stroke-width="0.5"/>
<polygon points="837.20,704.30 846.24,708.60 857.54,703.00 848.50,698.70" fill="#4a4646" stroke="#141111" stroke-width="0.5"/>
<polygon points="837.20,704.30 846.24,708.60 846.24,718.90 837.20,714.60" fill="#353131" stroke="#141111" stroke-width="0.5"/>
<polygon points="846.24,708.60 857.54,703.00 857.54,713.30 846.24,718.90" fill="#262222" stroke="#141111" stroke-width="0.5"/>
<ellipse cx="847.37" cy="703.65" rx="3" ry="1.8" fill="#1a1717" stroke="#888" stroke-width="0.5" />
<ellipse cx="839.234" cy="662.78" rx="3.2" ry="2" fill="#1e1b1b" stroke="#999" stroke-width="0.6" />
<line x1="792.0" y1="669.8" x2="837.2" y2="691.3" stroke="#1c1818" stroke-width="0.75" />
<line x1="837.2" y1="691.3" x2="848.5" y2="685.6999999999999" stroke="#1c1818" stroke-width="0.75" />
<ellipse cx="812" cy="682.5" rx="18" ry="21.5" transform="rotate(15 812 682.5)" fill="#1f1c1c" stroke="#111" stroke-width="0.6"/>
<ellipse cx="809.5" cy="684" rx="17" ry="20.5" transform="rotate(15 809.5 684)" fill="#2f2b2b" stroke="#4d4848" stroke-width="0.6"/>
<ellipse cx="808.5" cy="685" rx="11" ry="13.5" transform="rotate(15 808.5 685)" fill="#3a3636" stroke="#222" stroke-width="0.5"/>
<ellipse cx="806" cy="687" rx="6.5" ry="9.5" fill="#bdb8bb" stroke="#666" stroke-width="0.4" transform="rotate(15 806 687)"/>
<polygon points="795.4,682.2 806,677.5 806,696.5 795.4,701.2" fill="url(#gRod2)"/>
<ellipse cx="795.4" cy="691.7" rx="6.8" ry="9.6" transform="rotate(15 795.4 691.7)" fill="#f4f3f3" stroke="#777" stroke-width="0.5"/>
<ellipse cx="795.4" cy="691.7" rx="4" ry="6" fill="none" stroke="#888" stroke-width="0.5" transform="rotate(15 795.4 691.7)"/>
<circle cx="795.4" cy="691.7" r="1.2" fill="#999" stroke="#333" stroke-width="0.4" />
<g fill="#3d77ab">
<polygon points="1054.6,62.8 1060.6,62.8 1060.6,92.8 1054.6,92.8"/>
<polygon points="1079,62.8 1085,62.8 1085,92.8 1079,92.8"/>
<polygon points="1054.6,62.8 1065,62.8 1085,92.8 1074.7,92.8"/>
<polygon points="1088.75,62.8 1099,62.8 1104.4,71.5 1110.4,62.8 1120.7,62.8 1108.2,79 1108.2,92.8 1100.5,92.8 1100.5,79"/>
</g>
<path d="M1147.3,71.5 A12.5,12.5 0 1 0 1147.3,84.1" fill="none" stroke="#3d77ab" stroke-width="6.4"/>
<rect x="1063" y="76.7" width="23" height="1.1" fill="#fff"/>
<rect x="1099" y="76.7" width="11" height="1.1" fill="#fff"/>
<rect x="1119" y="76.7" width="9" height="1.1" fill="#fff"/>
<rect x="1063" y="80.7" width="23" height="1.1" fill="#fff"/>
<rect x="1099" y="80.7" width="11" height="1.1" fill="#fff"/>
<rect x="1119" y="80.7" width="9" height="1.1" fill="#fff"/>
<circle cx="1155.4" cy="59.8" r="2.7" fill="#2a2626"/><circle cx="1155.4" cy="59.8" r="1.1" fill="#bbb"/>
</svg>
</body></html>
